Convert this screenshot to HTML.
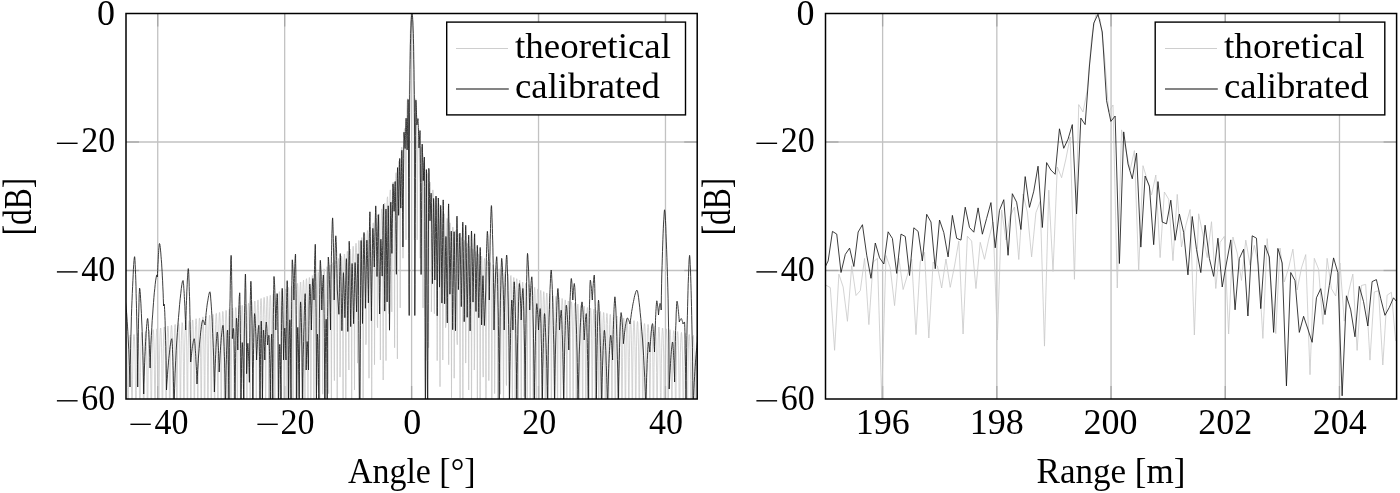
<!DOCTYPE html><html><head><meta charset="utf-8"><style>html,body{margin:0;padding:0;background:#fff;overflow:hidden}</style></head><body><svg width="1400" height="493" viewBox="0 0 1400 493" style="filter:grayscale(1);display:block;font-family:'Liberation Serif',serif"><rect width="1400" height="493" fill="#fff"/><g stroke="#c2c2c2" stroke-width="1.3"><line x1="157.73" y1="13.5" x2="157.73" y2="399.0" /><line x1="284.67" y1="13.5" x2="284.67" y2="399.0" /><line x1="411.60" y1="13.5" x2="411.60" y2="399.0" /><line x1="538.53" y1="13.5" x2="538.53" y2="399.0" /><line x1="665.47" y1="13.5" x2="665.47" y2="399.0" /><line x1="126.0" y1="142.00" x2="697.2" y2="142.00" /><line x1="126.0" y1="270.50" x2="697.2" y2="270.50" /></g><g stroke="#c2c2c2" stroke-width="1.3"><line x1="882.61" y1="13.5" x2="882.61" y2="399.0" /><line x1="996.83" y1="13.5" x2="996.83" y2="399.0" /><line x1="1111.05" y1="13.5" x2="1111.05" y2="399.0" /><line x1="1225.27" y1="13.5" x2="1225.27" y2="399.0" /><line x1="1339.49" y1="13.5" x2="1339.49" y2="399.0" /><line x1="825.5" y1="142.00" x2="1396.6" y2="142.00" /><line x1="825.5" y1="270.50" x2="1396.6" y2="270.50" /></g><g stroke="#a6a6a6" stroke-width="1.3"><line x1="157.73" y1="13.5" x2="157.73" y2="26.5" /><line x1="157.73" y1="399.0" x2="157.73" y2="386.0" /><line x1="284.67" y1="13.5" x2="284.67" y2="26.5" /><line x1="284.67" y1="399.0" x2="284.67" y2="386.0" /><line x1="411.60" y1="13.5" x2="411.60" y2="26.5" /><line x1="411.60" y1="399.0" x2="411.60" y2="386.0" /><line x1="538.53" y1="13.5" x2="538.53" y2="26.5" /><line x1="538.53" y1="399.0" x2="538.53" y2="386.0" /><line x1="665.47" y1="13.5" x2="665.47" y2="26.5" /><line x1="665.47" y1="399.0" x2="665.47" y2="386.0" /><line x1="126.0" y1="142.00" x2="139.0" y2="142.00" /><line x1="697.2" y1="142.00" x2="684.2" y2="142.00" /><line x1="126.0" y1="270.50" x2="139.0" y2="270.50" /><line x1="697.2" y1="270.50" x2="684.2" y2="270.50" /><line x1="882.61" y1="13.5" x2="882.61" y2="26.5" /><line x1="882.61" y1="399.0" x2="882.61" y2="386.0" /><line x1="996.83" y1="13.5" x2="996.83" y2="26.5" /><line x1="996.83" y1="399.0" x2="996.83" y2="386.0" /><line x1="1111.05" y1="13.5" x2="1111.05" y2="26.5" /><line x1="1111.05" y1="399.0" x2="1111.05" y2="386.0" /><line x1="1225.27" y1="13.5" x2="1225.27" y2="26.5" /><line x1="1225.27" y1="399.0" x2="1225.27" y2="386.0" /><line x1="1339.49" y1="13.5" x2="1339.49" y2="26.5" /><line x1="1339.49" y1="399.0" x2="1339.49" y2="386.0" /><line x1="825.5" y1="142.00" x2="838.5" y2="142.00" /><line x1="1396.6" y1="142.00" x2="1383.6" y2="142.00" /><line x1="825.5" y1="270.50" x2="838.5" y2="270.50" /><line x1="1396.6" y1="270.50" x2="1383.6" y2="270.50" /></g><defs><clipPath id="cl"><rect x="126.0" y="13.5" width="571.2" height="385.5"/></clipPath><clipPath id="cr"><rect x="825.5" y="13.5" width="571.0999999999999" height="385.5"/></clipPath></defs><path clip-path="url(#cl)" d="M126.0,336.2 126.3,336.9 126.5,339.9 126.8,345.4 127.0,354.1 127.3,367.2 127.5,387.4 127.8,423.7 128.0,431.1 128.3,428.3 128.5,389.4 128.8,368.2 129.0,354.5 129.3,345.3 129.6,339.4 129.8,336.2 130.1,335.2 130.3,336.5 130.6,340.2 130.8,346.7 131.1,356.7 131.3,371.7 131.6,395.8 131.8,431.1 132.1,431.1 132.3,409.8 132.6,379.4 132.9,361.3 133.1,349.5 133.4,341.7 133.6,336.8 133.9,334.5 134.1,334.6 134.4,336.9 134.6,341.9 134.9,349.9 135.1,362.1 135.4,380.9 135.6,413.6 135.9,431.1 136.2,431.1 136.4,390.5 136.7,367.7 136.9,353.3 137.2,343.8 137.4,337.7 137.7,334.3 137.9,333.3 138.2,334.8 138.4,338.7 138.7,345.5 138.9,356.1 139.2,372.2 139.5,398.8 139.7,431.1 140.0,431.1 140.2,399.9 140.5,372.6 140.7,356.1 141.0,345.2 141.2,338.1 141.5,334.0 141.7,332.4 142.0,333.3 142.2,336.6 142.5,342.7 142.8,352.5 143.0,367.3 143.3,391.2 143.5,431.1 143.8,431.1 144.0,405.6 144.3,375.1 144.5,357.2 144.8,345.5 145.0,337.9 145.3,333.4 145.5,331.6 145.8,332.2 146.1,335.3 146.3,341.2 146.6,350.7 146.8,365.2 147.1,388.7 147.3,431.1 147.6,431.1 147.8,405.8 148.1,374.6 148.3,356.4 148.6,344.6 148.8,337.0 149.1,332.5 149.4,330.6 149.6,331.3 149.9,334.6 150.1,340.7 150.4,350.6 150.6,365.7 150.9,390.5 151.1,431.1 151.4,431.1 151.6,400.1 151.9,370.9 152.1,353.6 152.4,342.4 152.7,335.2 152.9,331.1 153.2,329.7 153.4,330.8 153.7,334.6 153.9,341.4 154.2,352.2 154.4,369.1 154.7,397.4 154.9,431.1 155.2,431.1 155.4,390.1 155.7,364.7 156.0,349.2 156.2,339.1 156.5,332.8 156.7,329.5 157.0,328.8 157.2,330.7 157.5,335.5 157.7,343.6 158.0,356.2 158.2,376.1 158.5,412.3 158.7,431.1 159.0,416.5 159.3,377.9 159.5,357.0 159.8,343.8 160.0,335.3 160.3,330.2 160.5,328.0 160.8,328.4 161.0,331.6 161.3,337.7 161.5,347.7 161.8,363.4 162.0,389.2 162.3,431.1 162.6,431.1 162.8,392.7 163.1,365.1 163.3,348.5 163.6,337.9 163.8,331.3 164.1,327.8 164.3,327.0 164.6,328.9 164.8,333.7 165.1,342.0 165.3,355.1 165.6,375.9 165.9,414.8 166.1,431.1 166.4,408.6 166.6,372.7 166.9,352.9 167.1,340.3 167.4,332.3 167.6,327.7 167.9,326.0 168.1,327.1 168.4,330.9 168.6,338.1 168.9,349.6 169.2,367.7 169.4,399.3 169.7,431.1 169.9,424.2 170.2,379.1 170.4,356.2 170.7,342.0 170.9,333.0 171.2,327.6 171.4,325.3 171.7,325.7 171.9,329.0 172.2,335.5 172.5,346.0 172.7,362.7 173.0,391.1 173.2,431.1 173.5,431.1 173.7,383.1 174.0,358.0 174.2,342.8 174.5,333.1 174.7,327.2 175.0,324.5 175.3,324.6 175.5,327.6 175.8,333.8 176.0,344.0 176.3,360.2 176.5,387.5 176.8,431.1 177.0,431.1 177.3,383.8 177.5,357.9 177.8,342.3 178.0,332.4 178.3,326.4 178.6,323.6 178.8,323.7 179.1,326.7 179.3,333.0 179.6,343.3 179.8,359.8 180.1,387.7 180.3,431.1 180.6,431.1 180.8,381.1 181.1,355.8 181.3,340.5 181.6,330.9 181.9,325.2 182.1,322.6 182.4,323.0 182.6,326.3 182.9,333.0 183.1,344.0 183.4,361.5 183.6,392.2 183.9,431.1 184.1,422.2 184.4,375.3 184.6,351.9 184.9,337.7 185.2,328.7 185.4,323.6 185.7,321.5 185.9,322.5 186.2,326.4 186.4,334.0 186.7,346.2 186.9,365.9 187.2,402.2 187.4,431.1 187.7,405.4 187.9,367.2 188.2,346.7 188.5,334.0 188.7,326.1 189.0,321.8 189.2,320.6 189.5,322.4 189.7,327.4 190.0,336.2 190.2,350.4 190.5,374.0 190.7,422.2 191.0,431.1 191.2,388.1 191.5,358.0 191.8,340.6 192.0,329.7 192.3,323.2 192.5,320.1 192.8,320.0 193.0,323.0 193.3,329.4 193.5,340.2 193.8,357.6 194.0,387.9 194.3,431.1 194.5,419.1 194.8,371.7 195.1,348.4 195.3,334.2 195.6,325.4 195.8,320.5 196.1,318.7 196.3,320.1 196.6,324.7 196.8,333.1 197.1,346.7 197.3,369.3 197.6,414.4 197.8,431.1 198.1,388.6 198.4,357.0 198.6,339.1 198.9,328.0 199.1,321.4 199.4,318.2 199.6,318.2 199.9,321.3 200.1,328.0 200.4,339.2 200.6,357.4 200.9,389.8 201.1,431.1 201.4,409.4 201.7,366.2 201.9,344.2 202.2,330.8 202.4,322.5 202.7,318.1 202.9,316.9 203.2,318.9 203.4,324.2 203.7,333.7 203.9,349.2 204.2,375.4 204.4,431.1 204.7,431.1 205.0,375.5 205.2,348.9 205.5,333.3 205.7,323.6 206.0,318.1 206.2,316.0 206.5,317.1 206.7,321.5 207.0,329.8 207.2,343.4 207.5,366.1 207.7,412.0 208.0,431.1 208.3,383.9 208.5,352.9 208.8,335.3 209.0,324.4 209.3,318.0 209.5,315.2 209.8,315.6 210.0,319.4 210.3,326.9 210.5,339.4 210.8,360.0 211.0,399.4 211.3,431.1 211.6,390.7 211.8,355.7 212.1,336.5 212.3,324.7 212.6,317.8 212.8,314.5 213.1,314.5 213.3,317.7 213.6,324.8 213.8,336.7 214.1,356.3 214.3,392.7 214.6,431.1 214.9,394.6 215.1,356.9 215.4,336.8 215.6,324.5 215.9,317.2 216.1,313.6 216.4,313.4 216.6,316.5 216.9,323.4 217.1,335.1 217.4,354.4 217.6,390.1 217.9,431.1 218.2,394.8 218.4,356.3 218.7,335.9 218.9,323.6 219.2,316.2 219.4,312.6 219.7,312.5 219.9,315.6 220.2,322.6 220.4,334.5 220.7,354.3 220.9,391.2 221.2,431.1 221.5,391.0 221.7,353.9 222.0,334.0 222.2,322.0 222.5,314.8 222.7,311.5 223.0,311.6 223.2,315.1 223.5,322.5 223.7,335.1 224.0,356.0 224.2,396.4 224.5,431.1 224.8,384.0 225.0,349.9 225.3,331.2 225.5,319.8 225.8,313.2 226.0,310.4 226.3,310.9 226.5,315.0 226.8,323.1 227.0,336.8 227.3,359.8 227.5,407.4 227.8,431.1 228.1,374.7 228.3,344.6 228.6,327.5 228.8,317.1 229.1,311.3 229.3,309.2 229.6,310.5 229.8,315.4 230.1,324.6 230.3,340.0 230.6,366.6 230.8,428.9 231.1,422.5 231.4,364.3 231.6,338.4 231.9,323.3 232.1,314.2 232.4,309.4 232.6,308.2 232.9,310.5 233.1,316.5 233.4,327.2 233.6,345.2 233.9,377.6 234.1,431.1 234.4,396.2 234.7,353.5 234.9,331.8 235.2,318.9 235.4,311.2 235.7,307.6 235.9,307.5 236.2,311.0 236.4,318.5 236.7,331.4 236.9,353.2 237.2,396.4 237.4,431.1 237.7,375.2 238.0,343.0 238.2,325.2 238.5,314.4 238.7,308.4 239.0,306.2 239.2,307.4 239.5,312.4 239.7,321.9 240.0,337.9 240.2,365.8 240.5,431.1 240.7,410.7 241.0,357.7 241.3,333.2 241.5,318.8 241.8,310.2 242.0,305.9 242.3,305.3 242.5,308.2 242.8,315.1 243.0,327.2 243.3,347.7 243.5,387.1 243.8,431.1 244.0,377.7 244.3,343.0 244.6,324.2 244.8,312.9 245.1,306.5 245.3,304.1 245.6,305.2 245.8,310.1 246.1,319.5 246.3,335.4 246.6,363.3 246.8,431.1 247.1,407.9 247.3,355.1 247.6,330.6 247.9,316.3 248.1,307.8 248.4,303.7 248.6,303.2 248.9,306.4 249.1,313.7 249.4,326.5 249.6,348.1 249.9,391.5 250.1,431.1 250.4,369.9 250.6,337.9 250.9,320.1 251.2,309.5 251.4,303.8 251.7,301.9 251.9,303.6 252.2,309.3 252.4,319.7 252.7,337.4 252.9,369.7 253.2,431.1 253.4,388.7 253.7,345.9 253.9,324.3 254.2,311.6 254.5,304.2 254.7,301.0 255.0,301.5 255.2,305.8 255.5,314.5 255.7,329.5 256.0,355.5 256.2,416.0 256.5,414.3 256.7,354.7 257.0,328.7 257.2,313.7 257.5,304.8 257.8,300.4 258.0,299.9 258.3,303.0 258.5,310.4 258.8,323.3 259.0,345.5 259.3,390.5 259.5,431.1 259.8,364.0 260.0,332.9 260.3,315.7 260.5,305.5 260.8,300.0 261.1,298.5 261.3,300.8 261.6,307.0 261.8,318.5 262.1,338.0 262.3,375.1 262.6,431.1 262.8,373.4 263.1,336.9 263.3,317.5 263.6,306.0 263.8,299.7 264.1,297.4 264.4,298.9 264.6,304.3 264.9,314.7 265.1,332.3 265.4,364.7 265.6,431.1 265.9,382.7 266.1,340.3 266.4,318.9 266.6,306.3 266.9,299.2 267.1,296.3 267.4,297.2 267.7,302.0 267.9,311.6 268.2,328.0 268.4,357.5 268.7,431.1 268.9,391.0 269.2,342.9 269.4,319.8 269.7,306.3 269.9,298.6 270.2,295.3 270.5,295.7 270.7,300.1 271.0,309.1 271.2,324.7 271.5,352.4 271.7,421.9 272.0,397.5 272.2,344.5 272.5,320.1 272.7,306.0 273.0,297.8 273.2,294.2 273.5,294.4 273.8,298.5 274.0,307.2 274.3,322.3 274.5,349.1 274.8,413.7 275.0,400.9 275.3,344.8 275.5,319.6 275.8,305.2 276.0,296.8 276.3,293.0 276.5,293.1 276.8,297.1 277.1,305.7 277.3,320.7 277.6,347.3 277.8,410.8 278.1,400.6 278.3,343.7 278.6,318.4 278.8,303.9 279.1,295.5 279.3,291.7 279.6,291.8 279.8,295.9 280.1,304.6 280.4,319.8 280.6,346.8 280.9,412.9 281.1,396.4 281.4,341.4 281.6,316.5 281.9,302.2 282.1,294.0 282.4,290.3 282.6,290.6 282.9,294.9 283.1,304.0 283.4,319.7 283.7,347.9 283.9,420.5 284.2,389.0 284.4,337.8 284.7,313.9 284.9,300.1 285.2,292.3 285.4,288.9 285.7,289.5 285.9,294.2 286.2,303.8 286.4,320.4 286.7,350.5 287.0,431.1 287.2,379.4 287.5,333.1 287.7,310.7 288.0,297.6 288.2,290.3 288.5,287.4 288.7,288.5 289.0,293.8 289.2,304.1 289.5,321.9 289.7,355.1 290.0,431.1 290.3,368.6 290.5,327.7 290.8,307.0 291.0,294.9 291.3,288.3 291.5,286.0 291.8,287.7 292.0,293.6 292.3,305.0 292.5,324.6 292.8,362.5 293.0,431.1 293.3,357.3 293.6,321.8 293.8,302.9 294.1,291.9 294.3,286.1 294.6,284.6 294.8,287.1 295.1,293.9 295.3,306.6 295.6,328.6 295.8,374.1 296.1,431.1 296.3,346.1 296.6,315.5 296.9,298.6 297.1,288.8 297.4,284.0 297.6,283.4 297.9,286.7 298.1,294.8 298.4,309.1 298.6,334.5 298.9,393.2 299.1,396.6 299.4,335.3 299.6,309.1 299.9,294.2 300.2,285.8 300.4,282.0 300.7,282.3 300.9,286.8 301.2,296.3 301.4,312.9 301.7,343.2 301.9,431.1 302.2,370.7 302.4,325.0 302.7,302.7 302.9,289.9 303.2,282.8 303.5,280.2 303.7,281.7 304.0,287.5 304.2,298.7 304.5,318.2 304.7,356.1 305.0,431.1 305.2,350.8 305.5,315.3 305.7,296.5 306.0,285.6 306.2,280.0 306.5,278.7 306.8,281.5 307.0,288.8 307.3,302.2 307.5,325.8 307.8,377.2 308.0,406.5 308.3,334.5 308.5,306.4 308.8,290.6 309.0,281.7 309.3,277.5 309.5,277.6 309.8,281.8 310.1,291.0 310.3,307.3 310.6,337.0 310.8,421.0 311.1,367.6 311.3,320.7 311.6,298.1 311.8,285.1 312.1,278.0 312.3,275.5 312.6,277.0 312.8,282.9 313.1,294.4 313.4,314.5 313.6,354.2 313.9,431.1 314.1,342.8 314.4,308.8 314.6,290.6 314.9,280.1 315.1,274.9 315.4,273.9 315.6,277.1 315.9,285.1 316.1,299.4 316.4,325.1 316.7,385.5 316.9,383.7 317.2,324.1 317.4,298.4 317.7,283.8 317.9,275.7 318.2,272.2 318.4,273.0 318.7,278.1 318.9,288.5 319.2,306.7 319.4,341.4 319.7,431.1 320.0,347.9 320.2,309.2 320.5,289.3 320.7,277.8 321.0,271.9 321.2,270.3 321.5,272.9 321.7,280.2 322.0,293.6 322.2,317.5 322.5,370.1 322.7,394.2 323.0,324.6 323.3,296.9 323.5,281.4 323.8,272.7 324.0,268.8 324.3,269.2 324.5,273.9 324.8,283.8 325.0,301.3 325.3,334.2 325.5,431.1 325.8,348.1 326.0,307.2 326.3,286.5 326.6,274.6 326.8,268.3 327.1,266.6 327.3,269.0 327.6,276.1 327.8,289.3 328.1,312.8 328.3,364.1 328.6,393.6 328.8,321.5 329.1,293.4 329.3,277.7 329.6,268.9 329.9,265.0 330.1,265.3 330.4,270.1 330.6,280.0 330.9,297.7 331.1,331.1 331.4,431.1 331.6,342.7 331.9,302.5 332.1,282.1 332.4,270.4 332.6,264.2 332.9,262.6 333.2,265.3 333.4,272.6 333.7,286.3 333.9,310.7 334.2,365.7 334.4,380.6 334.7,314.8 334.9,287.9 335.2,272.8 335.4,264.3 335.7,260.7 335.9,261.4 336.2,266.6 336.5,277.2 336.7,295.9 337.0,332.1 337.2,431.1 337.5,332.3 337.7,295.4 338.0,276.2 338.2,265.2 338.5,259.6 338.7,258.5 339.0,261.6 339.2,269.7 339.5,284.5 339.8,311.1 340.0,377.1 340.3,360.3 340.5,305.3 340.8,280.7 341.0,266.7 341.3,259.1 341.5,256.2 341.8,257.5 342.0,263.5 342.3,275.2 342.5,296.0 342.8,338.1 343.1,424.7 343.3,318.6 343.6,286.4 343.8,269.0 344.1,259.1 344.3,254.4 344.6,254.1 344.8,258.2 345.1,267.5 345.3,284.1 345.6,315.0 345.8,411.2 346.1,337.8 346.4,293.8 346.6,272.1 346.9,259.8 347.1,253.2 347.4,251.3 347.6,253.7 347.9,260.9 348.1,274.3 348.4,298.4 348.6,352.7 348.9,370.0 349.1,303.3 349.4,276.1 349.7,260.9 349.9,252.5 350.2,249.0 350.4,249.8 350.7,255.1 350.9,266.0 351.2,285.5 351.4,323.9 351.7,431.1 351.9,315.9 352.2,281.1 352.4,262.7 352.7,252.1 353.0,247.0 353.2,246.3 353.5,250.0 353.7,258.9 354.0,274.9 354.2,304.5 354.5,390.0 354.7,333.9 355.0,287.3 355.2,264.9 355.5,252.2 355.7,245.4 356.0,243.3 356.3,245.5 356.5,252.5 356.8,265.8 357.0,289.7 357.3,343.2 357.5,363.1 357.8,295.2 358.0,267.8 358.3,252.6 358.5,244.1 358.8,240.5 359.0,241.4 359.3,246.8 359.6,257.8 359.8,277.6 360.1,317.0 360.3,431.1 360.6,305.5 360.8,271.4 361.1,253.3 361.3,243.0 361.6,238.0 361.8,237.5 362.1,241.5 362.3,250.6 362.6,267.2 362.9,298.4 363.1,397.9 363.4,319.4 363.6,275.9 363.9,254.4 364.1,242.1 364.4,235.7 364.6,233.9 364.9,236.5 365.1,244.0 365.4,258.1 365.7,283.7 365.9,344.7 366.2,340.2 366.4,281.4 366.7,255.8 366.9,241.4 367.2,233.5 367.4,230.5 367.7,231.8 367.9,237.9 368.2,249.8 368.4,271.3 368.7,316.2 369.0,378.2 369.2,288.3 369.5,257.7 369.7,240.9 370.0,231.4 370.2,227.1 370.5,227.3 370.7,232.0 371.0,242.1 371.2,260.5 371.5,296.1 371.7,407.8 372.0,297.3 372.3,259.9 372.5,240.5 372.8,229.4 373.0,223.8 373.3,222.8 373.5,226.3 373.8,234.9 374.0,250.6 374.3,280.0 374.5,364.7 374.8,309.5 375.0,262.7 375.3,240.2 375.6,227.3 375.8,220.5 376.1,218.4 376.3,220.6 376.6,227.8 376.8,241.5 377.1,266.3 377.3,324.6 377.6,327.7 377.8,266.2 378.1,240.0 378.3,225.2 378.6,217.1 378.9,213.8 379.1,215.0 379.4,220.9 379.6,232.7 379.9,254.1 380.1,299.0 380.4,360.0 380.6,270.5 380.9,239.8 381.1,223.0 381.4,213.5 381.6,209.1 381.9,209.2 382.2,213.9 382.4,224.1 382.7,242.7 382.9,279.3 383.2,380.0 383.4,276.1 383.7,239.7 383.9,220.6 384.2,209.6 384.4,204.1 384.7,203.2 384.9,206.8 385.2,215.6 385.5,231.8 385.7,262.5 386.0,360.6 386.2,283.6 386.5,239.7 386.7,217.9 387.0,205.4 387.2,198.8 387.5,196.8 387.7,199.3 388.0,206.8 388.2,221.0 388.5,247.4 388.8,313.7 389.0,294.4 389.3,239.7 389.5,214.8 389.8,200.7 390.0,192.8 390.3,189.9 390.5,191.3 390.8,197.6 391.0,210.1 391.3,232.9 391.5,283.8 391.8,311.8 392.1,239.7 392.3,211.2 392.6,195.2 392.8,186.2 393.1,182.1 393.3,182.6 393.6,187.7 393.8,198.6 394.1,218.5 394.3,259.8 394.6,347.7 394.8,239.7 395.1,206.8 395.4,188.8 395.6,178.4 395.9,173.3 396.1,172.7 396.4,176.7 396.6,186.1 396.9,203.6 397.1,238.1 397.4,358.9 397.6,239.7 397.9,201.3 398.1,181.0 398.4,169.2 398.7,162.9 398.9,161.2 399.2,164.0 399.4,172.0 399.7,187.3 399.9,216.7 400.2,307.9 400.4,239.8 400.7,193.9 400.9,171.0 401.2,157.5 401.4,150.0 401.7,147.1 402.0,148.7 402.2,155.2 402.5,168.4 402.7,193.6 403.0,258.2 403.2,239.8 403.5,183.4 403.7,157.3 404.0,141.9 404.2,132.8 404.5,128.6 404.7,128.7 405.0,133.5 405.3,144.6 405.5,165.9 405.8,215.6 406.0,239.8 406.3,166.8 406.5,136.5 406.8,118.5 407.0,107.2 407.3,100.8 407.5,98.7 407.8,101.1 408.0,109.0 408.3,126.0 408.6,164.5 408.8,239.8 409.1,133.3 409.3,95.9 409.6,72.5 409.8,55.7 410.1,43.0 410.3,33.2 410.6,25.8 410.8,20.3 411.1,16.5 411.3,14.2 411.6,13.5 411.9,14.2 412.1,16.5 412.4,20.3 412.6,25.8 412.9,33.2 413.1,43.0 413.4,55.7 413.6,72.5 413.9,95.9 414.1,133.3 414.4,239.8 414.6,164.5 414.9,126.0 415.2,109.0 415.4,101.1 415.7,98.7 415.9,100.8 416.2,107.2 416.4,118.5 416.7,136.5 416.9,166.8 417.2,239.8 417.4,215.6 417.7,165.9 417.9,144.6 418.2,133.5 418.5,128.7 418.7,128.6 419.0,132.8 419.2,141.9 419.5,157.3 419.7,183.4 420.0,239.8 420.2,258.2 420.5,193.6 420.7,168.4 421.0,155.2 421.2,148.7 421.5,147.1 421.8,150.0 422.0,157.5 422.3,171.0 422.5,193.9 422.8,239.8 423.0,307.9 423.3,216.7 423.5,187.3 423.8,172.0 424.0,164.0 424.3,161.2 424.5,162.9 424.8,169.2 425.1,181.0 425.3,201.3 425.6,239.7 425.8,360.7 426.1,238.1 426.3,203.6 426.6,186.1 426.8,176.7 427.1,172.7 427.3,173.3 427.6,178.4 427.8,188.8 428.1,206.8 428.4,239.7 428.6,347.7 428.9,259.8 429.1,218.5 429.4,198.6 429.6,187.7 429.9,182.6 430.1,182.1 430.4,186.2 430.6,195.2 430.9,211.2 431.1,239.7 431.4,311.8 431.7,283.8 431.9,232.9 432.2,210.1 432.4,197.6 432.7,191.3 432.9,189.9 433.2,192.8 433.4,200.7 433.7,214.8 433.9,239.7 434.2,294.4 434.4,313.7 434.7,247.4 435.0,221.0 435.2,206.8 435.5,199.3 435.7,196.8 436.0,198.8 436.2,205.4 436.5,217.9 436.7,239.7 437.0,283.6 437.2,360.6 437.5,262.5 437.7,231.8 438.0,215.6 438.3,206.8 438.5,203.2 438.8,204.1 439.0,209.6 439.3,220.6 439.5,239.7 439.8,276.1 440.0,386.7 440.3,279.3 440.5,242.7 440.8,224.1 441.0,213.9 441.3,209.2 441.6,209.1 441.8,213.5 442.1,223.0 442.3,239.8 442.6,270.5 442.8,360.0 443.1,299.0 443.3,254.1 443.6,232.7 443.8,220.9 444.1,215.0 444.3,213.8 444.6,217.1 444.9,225.2 445.1,240.0 445.4,266.2 445.6,327.7 445.9,324.6 446.1,266.3 446.4,241.5 446.6,227.8 446.9,220.6 447.1,218.4 447.4,220.5 447.6,227.3 447.9,240.2 448.2,262.7 448.4,309.5 448.7,364.7 448.9,280.0 449.2,250.6 449.4,234.9 449.7,226.3 449.9,222.8 450.2,223.8 450.4,229.4 450.7,240.5 450.9,259.9 451.2,297.3 451.5,397.7 451.7,296.1 452.0,260.5 452.2,242.1 452.5,232.0 452.7,227.3 453.0,227.1 453.2,231.4 453.5,240.9 453.7,257.7 454.0,288.3 454.2,378.2 454.5,316.2 454.8,271.3 455.0,249.8 455.3,237.9 455.5,231.8 455.8,230.5 456.0,233.5 456.3,241.4 456.5,255.8 456.8,281.4 457.0,340.2 457.3,344.7 457.5,283.7 457.8,258.1 458.1,244.0 458.3,236.5 458.6,233.9 458.8,235.7 459.1,242.1 459.3,254.4 459.6,275.9 459.8,319.4 460.1,397.9 460.3,298.4 460.6,267.2 460.9,250.6 461.1,241.5 461.4,237.5 461.6,238.0 461.9,243.0 462.1,253.3 462.4,271.4 462.6,305.5 462.9,431.1 463.1,317.0 463.4,277.6 463.6,257.8 463.9,246.8 464.2,241.4 464.4,240.5 464.7,244.1 464.9,252.6 465.2,267.8 465.4,295.2 465.7,363.1 465.9,343.2 466.2,289.7 466.4,265.8 466.7,252.5 466.9,245.5 467.2,243.3 467.5,245.4 467.7,252.2 468.0,264.9 468.2,287.3 468.5,333.9 468.7,390.0 469.0,304.5 469.2,274.9 469.5,258.9 469.7,250.0 470.0,246.3 470.2,247.0 470.5,252.1 470.8,262.7 471.0,281.1 471.3,315.9 471.5,431.1 471.8,323.9 472.0,285.5 472.3,266.0 472.5,255.1 472.8,249.8 473.0,249.0 473.3,252.5 473.5,260.9 473.8,276.1 474.1,303.3 474.3,370.0 474.6,352.7 474.8,298.4 475.1,274.3 475.3,260.9 475.6,253.7 475.8,251.3 476.1,253.2 476.3,259.8 476.6,272.1 476.8,293.8 477.1,337.8 477.4,411.2 477.6,315.0 477.9,284.1 478.1,267.5 478.4,258.2 478.6,254.1 478.9,254.4 479.1,259.1 479.4,269.0 479.6,286.4 479.9,318.6 480.1,424.7 480.4,338.1 480.7,296.0 480.9,275.2 481.2,263.5 481.4,257.5 481.7,256.2 481.9,259.1 482.2,266.7 482.4,280.7 482.7,305.3 482.9,360.3 483.2,377.1 483.4,311.1 483.7,284.5 484.0,269.7 484.2,261.6 484.5,258.5 484.7,259.6 485.0,265.2 485.2,276.2 485.5,295.4 485.7,332.3 486.0,431.1 486.2,332.1 486.5,295.9 486.7,277.2 487.0,266.6 487.3,261.4 487.5,260.7 487.8,264.3 488.0,272.8 488.3,287.9 488.5,314.8 488.8,380.6 489.0,365.7 489.3,310.7 489.5,286.3 489.8,272.6 490.0,265.3 490.3,262.6 490.6,264.2 490.8,270.4 491.1,282.1 491.3,302.5 491.6,342.7 491.8,431.1 492.1,331.1 492.3,297.7 492.6,280.0 492.8,270.1 493.1,265.3 493.3,265.0 493.6,268.9 493.9,277.7 494.1,293.4 494.4,321.5 494.6,393.6 494.9,364.1 495.1,312.8 495.4,289.3 495.6,276.1 495.9,269.0 496.1,266.6 496.4,268.3 496.6,274.6 496.9,286.5 497.2,307.2 497.4,348.1 497.7,431.1 497.9,334.2 498.2,301.3 498.4,283.8 498.7,273.9 498.9,269.2 499.2,268.8 499.4,272.7 499.7,281.4 499.9,296.9 500.2,324.6 500.5,394.2 500.7,370.1 501.0,317.5 501.2,293.6 501.5,280.2 501.7,272.9 502.0,270.3 502.2,271.9 502.5,277.8 502.7,289.3 503.0,309.2 503.2,347.9 503.5,431.1 503.8,341.4 504.0,306.7 504.3,288.5 504.5,278.1 504.8,273.0 505.0,272.2 505.3,275.7 505.5,283.8 505.8,298.4 506.0,324.1 506.3,383.7 506.5,385.5 506.8,325.1 507.1,299.4 507.3,285.1 507.6,277.1 507.8,273.9 508.1,274.9 508.3,280.1 508.6,290.6 508.8,308.8 509.1,342.8 509.3,431.1 509.6,354.2 509.8,314.5 510.1,294.4 510.4,282.9 510.6,277.0 510.9,275.5 511.1,278.0 511.4,285.1 511.6,298.1 511.9,320.7 512.1,367.6 512.4,421.0 512.6,337.0 512.9,307.3 513.1,291.0 513.4,281.8 513.7,277.6 513.9,277.5 514.2,281.7 514.4,290.6 514.7,306.4 514.9,334.5 515.2,406.5 515.4,377.2 515.7,325.8 515.9,302.2 516.2,288.8 516.4,281.5 516.7,278.7 517.0,280.0 517.2,285.6 517.5,296.5 517.7,315.3 518.0,350.8 518.2,431.1 518.5,356.1 518.7,318.2 519.0,298.7 519.2,287.5 519.5,281.7 519.7,280.2 520.0,282.8 520.3,289.9 520.5,302.7 520.8,325.0 521.0,370.7 521.3,431.1 521.5,343.2 521.8,312.9 522.0,296.3 522.3,286.8 522.5,282.3 522.8,282.0 523.0,285.8 523.3,294.2 523.6,309.1 523.8,335.3 524.1,396.6 524.3,393.2 524.6,334.5 524.8,309.1 525.1,294.8 525.3,286.7 525.6,283.4 525.8,284.0 526.1,288.8 526.3,298.6 526.6,315.5 526.9,346.1 527.1,431.1 527.4,374.1 527.6,328.6 527.9,306.6 528.1,293.9 528.4,287.1 528.6,284.6 528.9,286.1 529.1,291.9 529.4,302.9 529.6,321.8 529.9,357.3 530.2,431.1 530.4,362.5 530.7,324.6 530.9,305.0 531.2,293.6 531.4,287.7 531.7,286.0 531.9,288.3 532.2,294.9 532.4,307.0 532.7,327.7 532.9,368.6 533.2,431.1 533.5,355.1 533.7,321.9 534.0,304.1 534.2,293.8 534.5,288.5 534.7,287.4 535.0,290.3 535.2,297.6 535.5,310.7 535.7,333.1 536.0,379.4 536.2,431.1 536.5,350.5 536.8,320.4 537.0,303.8 537.3,294.2 537.5,289.5 537.8,288.9 538.0,292.3 538.3,300.1 538.5,313.9 538.8,337.8 539.0,389.0 539.3,420.5 539.5,347.9 539.8,319.7 540.1,304.0 540.3,294.9 540.6,290.6 540.8,290.3 541.1,294.0 541.3,302.2 541.6,316.5 541.8,341.4 542.1,396.4 542.3,412.9 542.6,346.8 542.8,319.8 543.1,304.6 543.4,295.9 543.6,291.8 543.9,291.7 544.1,295.5 544.4,303.9 544.6,318.4 544.9,343.7 545.1,400.6 545.4,410.8 545.6,347.3 545.9,320.7 546.1,305.7 546.4,297.1 546.7,293.1 546.9,293.0 547.2,296.8 547.4,305.2 547.7,319.6 547.9,344.8 548.2,400.9 548.4,413.7 548.7,349.1 548.9,322.3 549.2,307.2 549.4,298.5 549.7,294.4 550.0,294.2 550.2,297.8 550.5,306.0 550.7,320.1 551.0,344.5 551.2,397.5 551.5,421.9 551.7,352.4 552.0,324.7 552.2,309.1 552.5,300.1 552.7,295.7 553.0,295.3 553.3,298.6 553.5,306.3 553.8,319.8 554.0,342.9 554.3,391.0 554.5,431.1 554.8,357.5 555.0,328.0 555.3,311.6 555.5,302.0 555.8,297.2 556.1,296.3 556.3,299.2 556.6,306.3 556.8,318.9 557.1,340.3 557.3,382.7 557.6,431.1 557.8,364.7 558.1,332.3 558.3,314.7 558.6,304.3 558.8,298.9 559.1,297.4 559.4,299.7 559.6,306.0 559.9,317.5 560.1,336.9 560.4,373.4 560.6,431.1 560.9,375.1 561.1,338.0 561.4,318.5 561.6,307.0 561.9,300.8 562.1,298.5 562.4,300.0 562.7,305.5 562.9,315.7 563.2,332.9 563.4,364.0 563.7,431.1 563.9,390.5 564.2,345.5 564.4,323.3 564.7,310.4 564.9,303.0 565.2,299.9 565.4,300.4 565.7,304.8 566.0,313.7 566.2,328.7 566.5,354.7 566.7,414.3 567.0,416.0 567.2,355.5 567.5,329.5 567.7,314.5 568.0,305.8 568.2,301.5 568.5,301.0 568.7,304.2 569.0,311.6 569.3,324.3 569.5,345.9 569.8,388.7 570.0,431.1 570.3,369.7 570.5,337.4 570.8,319.7 571.0,309.3 571.3,303.6 571.5,301.9 571.8,303.8 572.0,309.5 572.3,320.1 572.6,337.9 572.8,369.9 573.1,431.1 573.3,391.5 573.6,348.1 573.8,326.5 574.1,313.7 574.3,306.4 574.6,303.2 574.8,303.7 575.1,307.8 575.3,316.3 575.6,330.6 575.9,355.1 576.1,407.9 576.4,431.1 576.6,363.3 576.9,335.4 577.1,319.5 577.4,310.1 577.6,305.2 577.9,304.1 578.1,306.5 578.4,312.9 578.6,324.2 578.9,343.0 579.2,377.7 579.4,431.1 579.7,387.1 579.9,347.7 580.2,327.2 580.4,315.1 580.7,308.2 580.9,305.3 581.2,305.9 581.4,310.2 581.7,318.8 581.9,333.2 582.2,357.7 582.5,410.7 582.7,431.1 583.0,365.8 583.2,337.9 583.5,321.9 583.7,312.4 584.0,307.4 584.2,306.2 584.5,308.4 584.7,314.4 585.0,325.2 585.2,343.0 585.5,375.2 585.8,431.1 586.0,396.4 586.3,353.2 586.5,331.4 586.8,318.5 587.0,311.0 587.3,307.5 587.5,307.6 587.8,311.2 588.0,318.9 588.3,331.8 588.5,353.5 588.8,396.2 589.1,431.1 589.3,377.6 589.6,345.2 589.8,327.2 590.1,316.5 590.3,310.5 590.6,308.2 590.8,309.4 591.1,314.2 591.3,323.3 591.6,338.4 591.8,364.3 592.1,422.5 592.4,428.9 592.6,366.6 592.9,340.0 593.1,324.6 593.4,315.4 593.6,310.5 593.9,309.2 594.1,311.3 594.4,317.1 594.6,327.5 594.9,344.6 595.1,374.7 595.4,431.1 595.7,407.4 595.9,359.8 596.2,336.8 596.4,323.1 596.7,315.0 596.9,310.9 597.2,310.4 597.4,313.2 597.7,319.8 597.9,331.2 598.2,349.9 598.4,384.0 598.7,431.1 599.0,396.4 599.2,356.0 599.5,335.1 599.7,322.5 600.0,315.1 600.2,311.6 600.5,311.5 600.7,314.8 601.0,322.0 601.2,334.0 601.5,353.9 601.7,391.0 602.0,431.1 602.3,391.2 602.5,354.3 602.8,334.5 603.0,322.6 603.3,315.6 603.5,312.5 603.8,312.6 604.0,316.2 604.3,323.6 604.5,335.9 604.8,356.3 605.0,394.8 605.3,431.1 605.6,390.1 605.8,354.4 606.1,335.1 606.3,323.4 606.6,316.5 606.8,313.4 607.1,313.6 607.3,317.2 607.6,324.5 607.8,336.8 608.1,356.9 608.3,394.6 608.6,431.1 608.9,392.7 609.1,356.3 609.4,336.7 609.6,324.8 609.9,317.7 610.1,314.5 610.4,314.5 610.6,317.8 610.9,324.7 611.1,336.5 611.4,355.7 611.6,390.7 611.9,431.1 612.2,399.4 612.4,360.0 612.7,339.4 612.9,326.9 613.2,319.4 613.4,315.6 613.7,315.2 613.9,318.0 614.2,324.4 614.4,335.3 614.7,352.9 614.9,383.9 615.2,431.1 615.5,412.0 615.7,366.1 616.0,343.4 616.2,329.8 616.5,321.5 616.7,317.1 617.0,316.0 617.2,318.1 617.5,323.6 617.7,333.3 618.0,348.9 618.2,375.5 618.5,431.1 618.8,431.1 619.0,375.4 619.3,349.2 619.5,333.7 619.8,324.2 620.0,318.9 620.3,316.9 620.5,318.1 620.8,322.5 621.0,330.8 621.3,344.2 621.5,366.2 621.8,409.4 622.1,431.1 622.3,389.8 622.6,357.4 622.8,339.2 623.1,328.0 623.3,321.3 623.6,318.2 623.8,318.2 624.1,321.4 624.3,328.0 624.6,339.1 624.8,357.0 625.1,388.6 625.4,431.1 625.6,414.4 625.9,369.3 626.1,346.7 626.4,333.1 626.6,324.7 626.9,320.1 627.1,318.7 627.4,320.5 627.6,325.4 627.9,334.2 628.1,348.4 628.4,371.7 628.7,419.1 628.9,431.1 629.2,387.9 629.4,357.6 629.7,340.2 629.9,329.4 630.2,323.0 630.4,320.0 630.7,320.1 630.9,323.2 631.2,329.7 631.4,340.6 631.7,358.0 632.0,388.1 632.2,431.1 632.5,422.2 632.7,374.0 633.0,350.4 633.2,336.2 633.5,327.4 633.7,322.4 634.0,320.6 634.2,321.8 634.5,326.1 634.7,334.0 635.0,346.7 635.3,367.2 635.5,405.4 635.8,431.1 636.0,402.2 636.3,365.9 636.5,346.2 636.8,334.0 637.0,326.4 637.3,322.5 637.5,321.5 637.8,323.6 638.0,328.7 638.3,337.7 638.6,351.9 638.8,375.3 639.1,422.2 639.3,431.1 639.6,392.2 639.8,361.5 640.1,344.0 640.3,333.0 640.6,326.3 640.8,323.0 641.1,322.6 641.3,325.2 641.6,330.9 641.9,340.5 642.1,355.8 642.4,381.1 642.6,431.1 642.9,431.1 643.1,387.7 643.4,359.8 643.6,343.3 643.9,333.0 644.1,326.7 644.4,323.7 644.6,323.6 644.9,326.4 645.2,332.4 645.4,342.3 645.7,357.9 645.9,383.8 646.2,431.1 646.4,431.1 646.7,387.5 646.9,360.2 647.2,344.0 647.4,333.8 647.7,327.6 647.9,324.6 648.2,324.5 648.5,327.2 648.7,333.1 649.0,342.8 649.2,358.0 649.5,383.1 649.7,431.1 650.0,431.1 650.2,391.1 650.5,362.7 650.7,346.0 651.0,335.5 651.3,329.0 651.5,325.7 651.8,325.3 652.0,327.6 652.3,333.0 652.5,342.0 652.8,356.2 653.0,379.1 653.3,424.2 653.5,431.1 653.8,399.3 654.0,367.7 654.3,349.6 654.6,338.1 654.8,330.9 655.1,327.1 655.3,326.0 655.6,327.7 655.8,332.3 656.1,340.3 656.3,352.9 656.6,372.7 656.8,408.6 657.1,431.1 657.3,414.8 657.6,375.9 657.9,355.1 658.1,342.0 658.4,333.7 658.6,328.9 658.9,327.0 659.1,327.8 659.4,331.3 659.6,337.9 659.9,348.5 660.1,365.1 660.4,392.7 660.6,431.1 660.9,431.1 661.2,389.2 661.4,363.4 661.7,347.7 661.9,337.7 662.2,331.6 662.4,328.4 662.7,328.0 662.9,330.2 663.2,335.3 663.4,343.8 663.7,357.0 663.9,377.9 664.2,416.5 664.5,431.1 664.7,412.3 665.0,376.1 665.2,356.2 665.5,343.6 665.7,335.5 666.0,330.7 666.2,328.8 666.5,329.5 666.7,332.8 667.0,339.1 667.2,349.2 667.5,364.7 667.8,390.1 668.0,431.1 668.3,431.1 668.5,397.4 668.8,369.1 669.0,352.2 669.3,341.4 669.5,334.6 669.8,330.8 670.0,329.7 670.3,331.1 670.5,335.2 670.8,342.4 671.1,353.6 671.3,370.9 671.6,400.1 671.8,431.1 672.1,431.1 672.3,390.5 672.6,365.7 672.8,350.6 673.1,340.7 673.3,334.6 673.6,331.3 673.8,330.6 674.1,332.5 674.4,337.0 674.6,344.6 674.9,356.4 675.1,374.6 675.4,405.8 675.6,431.1 675.9,431.1 676.1,388.7 676.4,365.2 676.6,350.7 676.9,341.2 677.1,335.3 677.4,332.2 677.7,331.6 677.9,333.4 678.2,337.9 678.4,345.5 678.7,357.2 678.9,375.1 679.2,405.6 679.4,431.1 679.7,431.1 679.9,391.2 680.2,367.3 680.4,352.5 680.7,342.7 681.0,336.6 681.2,333.3 681.5,332.4 681.7,334.0 682.0,338.1 682.2,345.2 682.5,356.1 682.7,372.6 683.0,399.9 683.2,431.1 683.5,431.1 683.7,398.8 684.0,372.2 684.3,356.1 684.5,345.5 684.8,338.7 685.0,334.8 685.3,333.3 685.5,334.3 685.8,337.7 686.0,343.8 686.3,353.3 686.5,367.7 686.8,390.5 687.0,431.1 687.3,431.1 687.6,413.6 687.8,380.9 688.1,362.1 688.3,349.9 688.6,341.9 688.8,336.9 689.1,334.6 689.3,334.5 689.6,336.8 689.8,341.7 690.1,349.5 690.3,361.3 690.6,379.4 690.9,409.8 691.1,431.1 691.4,431.1 691.6,395.8 691.9,371.7 692.1,356.7 692.4,346.7 692.6,340.2 692.9,336.5 693.1,335.2 693.4,336.2 693.6,339.4 693.9,345.3 694.2,354.5 694.4,368.2 694.7,389.4 694.9,428.3 695.2,431.1 695.4,423.7 695.7,387.4 695.9,367.2 696.2,354.1 696.4,345.4 696.7,339.9 696.9,336.9 697.2,336.2" fill="none" stroke="#c8c8c8" stroke-width="0.8" stroke-linejoin="round"/><path clip-path="url(#cl)" d="M125.0,300.0 125.3,300.7 125.6,302.7 125.9,305.5 126.2,308.9 126.6,312.7 126.9,316.8 127.2,321.3 127.5,326.1 127.8,331.3 128.1,337.0 128.4,343.0 128.8,349.7 129.1,357.1 129.4,365.4 129.7,375.1 130.0,387.0 130.3,364.2 130.6,348.7 130.9,336.4 131.2,326.0 131.4,316.7 131.7,308.3 132.0,300.6 132.3,293.4 132.6,286.7 132.9,280.5 133.2,274.7 133.4,269.4 133.7,264.6 134.0,260.6 134.3,257.8 134.6,256.7 134.8,257.8 135.0,260.6 135.2,264.6 135.4,269.4 135.6,274.7 135.8,280.5 136.0,286.7 136.1,293.4 136.3,300.6 136.5,308.3 136.7,316.7 136.9,326.0 137.1,336.4 137.3,348.7 137.5,364.2 137.7,387.0 137.8,372.6 137.9,361.3 138.1,351.8 138.2,343.5 138.3,336.1 138.4,329.3 138.5,323.1 138.6,317.3 138.8,311.9 138.9,307.0 139.0,302.4 139.1,298.1 139.2,294.4 139.4,291.2 139.5,289.0 139.6,288.2 139.9,289.1 140.1,291.4 140.4,294.8 140.6,298.8 140.9,303.2 141.1,308.1 141.4,313.4 141.6,319.0 141.9,325.1 142.2,331.7 142.4,338.9 142.7,346.7 142.9,355.5 143.2,365.7 143.4,377.9 143.7,394.0 143.9,384.4 144.2,376.2 144.4,369.0 144.7,362.5 144.9,356.7 145.2,351.3 145.4,346.3 145.6,341.6 145.9,337.3 146.1,333.4 146.4,329.7 146.6,326.3 146.9,323.4 147.1,320.9 147.4,319.1 147.6,318.5 147.8,318.9 147.9,320.1 148.1,321.8 148.2,323.8 148.4,326.2 148.5,328.7 148.7,331.5 148.8,334.5 149.0,337.7 149.2,341.1 149.3,344.8 149.5,348.8 149.6,353.0 149.8,357.6 149.9,362.6 150.1,368.0 150.5,354.9 150.9,344.4 151.4,335.4 151.8,327.6 152.2,320.5 152.7,314.1 153.1,308.1 153.5,302.7 153.9,297.6 154.3,292.8 154.8,288.4 155.2,284.4 155.6,280.9 156.1,277.9 156.5,275.8 156.9,275.0 156.9,275.0 157.0,275.1 157.0,275.1 157.0,275.2 157.1,275.3 157.1,275.5 157.1,275.6 157.2,275.7 157.2,275.9 157.2,276.0 157.2,276.2 157.3,276.3 157.3,276.5 157.3,276.7 157.4,276.8 157.4,277.0 157.5,273.6 157.7,270.4 157.8,267.4 157.9,264.6 158.1,261.9 158.2,259.3 158.3,256.9 158.4,254.7 158.6,252.6 158.7,250.6 158.8,248.9 159.0,247.2 159.1,245.8 159.2,244.6 159.4,243.8 159.5,243.5 159.8,244.0 160.0,245.5 160.3,247.6 160.5,250.1 160.8,252.9 161.0,256.1 161.3,259.5 161.6,263.1 161.8,267.1 162.1,271.3 162.3,275.9 162.6,280.8 162.8,286.2 163.1,292.1 163.3,298.6 163.6,306.0 163.6,305.8 163.7,305.7 163.7,305.5 163.8,305.3 163.8,305.2 163.8,305.0 163.9,304.9 163.9,304.7 163.9,304.6 164.0,304.5 164.0,304.3 164.0,304.2 164.1,304.1 164.1,304.1 164.2,304.0 164.2,304.0 164.3,304.7 164.5,306.7 164.6,309.5 164.8,312.8 164.9,316.5 165.1,320.6 165.2,325.1 165.3,329.9 165.5,335.0 165.6,340.6 165.8,346.6 165.9,353.2 166.1,360.5 166.2,368.8 166.4,378.3 166.5,390.0 166.8,384.3 167.2,379.1 167.5,374.4 167.8,370.0 168.2,365.9 168.5,362.1 168.8,358.5 169.2,355.2 169.5,352.1 169.8,349.2 170.1,346.6 170.5,344.2 170.8,342.1 171.1,340.4 171.5,339.2 171.8,338.7 171.9,339.3 172.1,341.0 172.2,343.4 172.4,346.3 172.5,349.6 172.6,353.2 172.8,357.1 172.9,361.3 173.0,365.8 173.2,370.6 173.3,375.9 173.4,381.6 173.6,387.9 173.7,394.9 173.9,402.8 174.0,410.0 174.6,388.8 175.1,373.2 175.7,360.8 176.2,350.3 176.8,340.9 177.4,332.5 177.9,324.7 178.5,317.5 179.1,310.8 179.6,304.5 180.2,298.7 180.8,293.3 181.3,288.5 181.9,284.4 182.4,281.6 183.0,280.5 183.2,280.9 183.3,282.1 183.5,283.8 183.7,285.8 183.8,288.2 184.0,290.7 184.2,293.5 184.3,296.5 184.5,299.7 184.7,303.1 184.9,306.8 185.0,310.8 185.2,315.0 185.4,319.6 185.5,324.6 185.7,330.0 185.9,322.8 186.0,316.4 186.2,310.6 186.3,305.3 186.5,300.5 186.7,296.0 186.8,291.8 187.0,287.9 187.2,284.3 187.3,281.0 187.5,277.9 187.7,275.1 187.8,272.6 188.0,270.6 188.1,269.1 188.3,268.6 188.5,269.4 188.6,271.5 188.8,274.5 188.9,278.1 189.1,282.1 189.2,286.5 189.3,291.2 189.5,296.4 189.7,301.9 189.8,307.8 189.9,314.3 190.1,321.4 190.2,329.3 190.4,338.2 190.5,348.8 190.7,362.0 190.9,359.8 191.1,357.6 191.4,355.6 191.6,353.6 191.8,351.7 192.0,350.0 192.2,348.3 192.4,346.7 192.7,345.2 192.9,343.8 193.1,342.5 193.3,341.3 193.5,340.3 193.8,339.5 194.0,338.9 194.2,338.7 194.4,339.1 194.5,340.2 194.7,341.7 194.9,343.6 195.1,345.8 195.2,348.1 195.4,350.7 195.6,353.4 195.8,356.4 195.9,359.6 196.1,363.0 196.3,366.6 196.5,370.5 196.7,374.7 196.8,379.1 197.0,384.0 197.4,376.4 197.7,369.6 198.1,363.6 198.4,358.1 198.8,353.1 199.2,348.4 199.5,344.1 199.9,340.0 200.3,336.3 200.6,332.8 201.0,329.7 201.4,326.7 201.7,324.2 202.1,322.0 202.4,320.6 202.8,320.0 202.9,320.0 203.1,320.2 203.2,320.4 203.4,320.6 203.5,320.9 203.6,321.1 203.8,321.5 203.9,321.8 204.0,322.1 204.2,322.5 204.3,322.9 204.4,323.3 204.6,323.7 204.7,324.1 204.9,324.6 205.0,325.0 205.3,321.7 205.6,318.5 205.9,315.5 206.2,312.7 206.5,310.0 206.8,307.5 207.1,305.1 207.4,302.9 207.8,300.8 208.1,298.9 208.4,297.1 208.7,295.5 209.0,294.1 209.3,292.9 209.6,292.1 209.9,291.8 210.2,292.6 210.5,294.9 210.7,298.1 211.0,301.9 211.3,306.1 211.6,310.8 211.9,315.8 212.2,321.3 212.4,327.1 212.7,333.4 213.0,340.2 213.3,347.7 213.6,356.1 213.8,365.8 214.1,377.2 214.4,392.0 214.6,385.0 214.8,378.8 214.9,373.1 215.1,368.0 215.3,363.2 215.5,358.8 215.7,354.7 215.9,350.9 216.0,347.4 216.2,344.1 216.4,341.1 216.6,338.4 216.8,335.9 216.9,333.9 217.1,332.5 217.3,332.0 217.4,332.4 217.5,333.3 217.7,334.7 217.8,336.4 217.9,338.3 218.0,340.4 218.1,342.7 218.2,345.2 218.4,347.8 218.5,350.6 218.6,353.7 218.7,356.9 218.8,360.3 219.0,363.9 219.1,367.8 219.2,372.0 219.4,367.0 219.7,362.3 219.9,358.0 220.1,354.0 220.4,350.3 220.6,346.8 220.9,343.5 221.1,340.5 221.3,337.6 221.6,335.0 221.8,332.6 222.1,330.4 222.3,328.4 222.5,326.8 222.8,325.7 223.0,325.3 223.2,326.0 223.3,328.0 223.5,330.8 223.6,334.2 223.8,337.9 223.9,342.1 224.1,346.5 224.2,351.4 224.4,356.5 224.6,362.1 224.7,368.2 224.9,374.9 225.0,382.2 225.2,390.5 225.3,400.2 225.5,410.0 225.6,401.1 225.8,392.1 225.9,384.3 226.0,377.3 226.1,370.9 226.2,365.1 226.4,359.8 226.5,354.8 226.6,350.2 226.8,346.0 226.9,342.0 227.0,338.4 227.1,335.2 227.2,332.6 227.4,330.7 227.5,330.0 227.6,330.7 227.7,332.6 227.8,335.2 227.9,338.4 228.0,342.0 228.1,346.0 228.2,350.2 228.2,354.8 228.3,359.8 228.4,365.1 228.5,370.9 228.6,377.3 228.7,384.3 228.8,392.1 228.9,401.1 229.0,410.0 229.1,380.6 229.3,361.9 229.4,347.6 229.5,335.5 229.7,324.9 229.8,315.3 229.9,306.4 230.1,298.2 230.2,290.5 230.3,283.3 230.4,276.6 230.6,270.3 230.7,264.7 230.8,260.0 231.0,256.7 231.1,255.4 231.2,256.1 231.3,258.0 231.3,260.7 231.4,263.9 231.5,267.6 231.6,271.6 231.6,275.9 231.7,280.6 231.8,285.6 231.9,291.0 231.9,296.9 232.0,303.3 232.1,310.4 232.2,318.3 232.2,327.5 232.3,338.6 232.4,337.7 232.5,336.8 232.5,336.0 232.6,335.1 232.7,334.3 232.8,333.5 232.8,332.8 232.9,332.1 233.0,331.4 233.1,330.8 233.1,330.2 233.2,329.7 233.3,329.2 233.4,328.8 233.4,328.6 233.5,328.5 233.6,329.2 233.7,331.1 233.8,333.8 233.9,337.0 234.0,340.7 234.1,344.7 234.2,349.0 234.3,353.7 234.3,358.7 234.4,364.2 234.5,370.1 234.6,376.5 234.7,383.6 234.8,391.6 234.9,400.8 235.0,410.0 235.1,398.6 235.2,388.0 235.3,379.0 235.4,371.1 235.5,363.9 235.6,357.4 235.7,351.4 235.8,345.9 235.8,340.8 235.9,336.0 236.0,331.6 236.1,327.5 236.2,323.9 236.3,320.9 236.4,318.8 236.5,318.0 236.6,318.3 236.7,319.1 236.7,320.2 236.8,321.6 236.9,323.1 237.0,324.8 237.1,326.7 237.2,328.7 237.2,330.9 237.3,333.2 237.4,335.6 237.5,338.2 237.6,340.9 237.6,343.8 237.7,346.8 237.8,350.0 237.9,343.4 238.0,337.6 238.2,332.2 238.3,327.3 238.4,322.7 238.5,318.5 238.6,314.6 238.8,311.0 238.9,307.6 239.0,304.4 239.1,301.5 239.2,298.9 239.3,296.6 239.5,294.6 239.6,293.3 239.7,292.8 239.8,293.8 239.9,296.4 239.9,300.1 240.0,304.5 240.1,309.5 240.2,314.9 240.3,320.7 240.3,326.9 240.4,333.6 240.5,340.8 240.6,348.6 240.7,357.3 240.7,367.0 240.8,378.4 240.9,392.4 241.0,410.0 241.1,403.5 241.1,396.1 241.2,389.5 241.3,383.5 241.4,378.1 241.5,373.1 241.5,368.4 241.6,364.1 241.7,360.1 241.8,356.4 241.9,353.0 241.9,349.9 242.0,347.1 242.1,344.8 242.2,343.2 242.3,342.6 242.4,343.2 242.5,344.8 242.6,347.1 242.7,349.9 242.8,353.0 242.9,356.4 243.0,360.1 243.1,364.1 243.1,368.4 243.2,373.1 243.3,378.1 243.4,383.5 243.5,389.5 243.6,396.1 243.7,403.5 243.8,410.0 243.9,386.9 244.0,370.4 244.1,357.5 244.2,346.6 244.3,336.9 244.4,328.1 244.5,320.1 244.6,312.6 244.7,305.6 244.8,299.1 244.9,293.0 245.0,287.4 245.1,282.4 245.2,278.2 245.3,275.2 245.4,274.1 245.5,274.9 245.6,277.2 245.6,280.3 245.7,284.1 245.8,288.4 245.9,293.0 245.9,298.0 246.0,303.4 246.1,309.2 246.2,315.5 246.2,322.3 246.3,329.8 246.4,338.1 246.5,347.7 246.6,359.1 246.6,373.7 246.7,370.7 246.8,367.8 246.9,365.1 246.9,362.5 247.0,360.1 247.1,357.8 247.2,355.6 247.2,353.5 247.3,351.6 247.4,349.8 247.5,348.2 247.5,346.7 247.6,345.4 247.7,344.3 247.8,343.6 247.9,343.3 247.9,343.6 248.0,344.6 248.1,345.9 248.2,347.6 248.3,349.5 248.4,351.5 248.5,353.8 248.6,356.2 248.7,358.8 248.8,361.5 248.9,364.5 249.0,367.6 249.1,371.0 249.2,374.5 249.3,378.3 249.4,382.3 249.5,367.4 249.6,355.8 249.7,346.1 249.8,337.6 249.9,330.1 249.9,323.2 250.0,316.8 250.1,311.0 250.2,305.5 250.3,300.4 250.4,295.7 250.5,291.4 250.6,287.6 250.7,284.4 250.8,282.1 250.9,281.3 251.0,282.4 251.1,285.2 251.3,289.2 251.4,294.0 251.5,299.4 251.6,305.2 251.7,311.4 251.9,318.1 252.0,325.3 252.1,333.0 252.2,341.4 252.3,350.7 252.4,361.2 252.6,373.6 252.7,389.1 252.8,410.0 252.9,397.7 253.0,386.4 253.1,377.0 253.2,368.7 253.4,361.3 253.5,354.6 253.6,348.4 253.7,342.6 253.8,337.3 253.9,332.3 254.0,327.7 254.2,323.5 254.3,319.8 254.4,316.6 254.5,314.4 254.6,313.6 254.7,314.0 254.8,315.1 255.0,316.7 255.1,318.6 255.2,320.8 255.3,323.2 255.5,325.8 255.6,328.7 255.7,331.7 255.9,334.9 256.0,338.4 256.1,342.1 256.2,346.1 256.4,350.4 256.5,355.0 256.6,360.0 256.7,356.5 256.9,353.2 257.0,350.0 257.2,347.1 257.3,344.3 257.4,341.7 257.6,339.2 257.7,336.9 257.8,334.7 258.0,332.7 258.1,330.8 258.2,329.2 258.4,327.7 258.5,326.5 258.7,325.6 258.8,325.3 258.9,326.0 259.0,328.0 259.0,330.8 259.1,334.2 259.2,337.9 259.3,342.1 259.3,346.5 259.4,351.4 259.5,356.5 259.6,362.1 259.7,368.2 259.7,374.9 259.8,382.2 259.9,390.5 260.0,400.2 260.0,410.0 260.1,399.3 260.2,389.1 260.3,380.4 260.4,372.7 260.4,365.7 260.5,359.4 260.6,353.6 260.7,348.2 260.7,343.2 260.8,338.5 260.9,334.2 261.0,330.3 261.0,326.8 261.1,323.9 261.2,321.9 261.3,321.1 261.3,321.9 261.4,323.9 261.5,326.8 261.6,330.3 261.6,334.2 261.7,338.5 261.8,343.2 261.8,348.2 261.9,353.6 262.0,359.4 262.0,365.7 262.1,372.7 262.2,380.4 262.3,389.1 262.3,399.3 262.4,410.0 262.5,401.1 262.5,392.1 262.6,384.3 262.7,377.3 262.7,370.9 262.8,365.1 262.9,359.8 262.9,354.8 263.0,350.2 263.1,346.0 263.2,342.0 263.2,338.4 263.3,335.2 263.4,332.6 263.4,330.7 263.5,330.0 263.6,330.3 263.7,331.0 263.7,332.1 263.8,333.4 263.9,334.8 264.0,336.4 264.1,338.2 264.1,340.1 264.2,342.1 264.3,344.3 264.4,346.6 264.5,349.0 264.6,351.5 264.6,354.2 264.7,357.0 264.8,360.0 264.9,356.1 265.0,352.4 265.1,349.0 265.2,345.7 265.3,342.7 265.4,339.8 265.5,337.1 265.6,334.6 265.6,332.2 265.7,330.0 265.8,328.0 265.9,326.2 266.0,324.6 266.1,323.3 266.2,322.3 266.3,322.0 266.4,322.2 266.5,322.8 266.5,323.6 266.6,324.6 266.7,325.8 266.8,327.0 266.9,328.4 267.0,329.9 267.0,331.4 267.1,333.1 267.2,334.9 267.3,336.7 267.4,338.7 267.4,340.7 267.5,342.8 267.6,345.0 267.7,344.1 267.8,343.3 267.8,342.5 267.9,341.7 268.0,340.9 268.1,340.1 268.2,339.4 268.2,338.7 268.3,338.1 268.4,337.5 268.5,336.9 268.6,336.4 268.7,336.0 268.7,335.6 268.8,335.4 268.9,335.3 269.0,335.9 269.1,337.4 269.2,339.5 269.2,342.1 269.3,345.0 269.4,348.2 269.5,351.6 269.6,355.4 269.7,359.4 269.8,363.7 269.9,368.4 269.9,373.5 270.0,379.0 270.1,385.0 270.2,391.8 270.3,399.4 270.4,391.6 270.5,384.7 270.6,378.5 270.6,372.9 270.7,367.8 270.8,363.0 270.9,358.6 271.0,354.5 271.1,350.7 271.2,347.2 271.2,343.9 271.3,341.0 271.4,338.4 271.5,336.2 271.6,334.7 271.7,334.1 271.8,334.8 271.8,336.6 271.9,339.1 272.0,342.2 272.0,345.6 272.1,349.4 272.2,353.5 272.3,357.9 272.3,362.6 272.4,367.8 272.5,373.3 272.6,379.3 272.6,386.0 272.7,393.4 272.8,401.9 272.8,410.0 272.9,387.6 273.0,371.5 273.1,358.8 273.1,348.0 273.2,338.4 273.3,329.8 273.3,321.8 273.4,314.4 273.5,307.6 273.6,301.1 273.6,295.1 273.7,289.6 273.8,284.7 273.9,280.6 273.9,277.6 274.0,276.5 274.1,277.0 274.2,278.2 274.3,280.1 274.4,282.2 274.6,284.7 274.7,287.4 274.8,290.4 274.9,293.6 275.0,297.1 275.1,300.7 275.2,304.7 275.4,309.0 275.5,313.6 275.6,318.6 275.7,324.0 275.8,330.0 275.9,326.3 276.0,322.8 276.1,319.5 276.2,316.4 276.3,313.5 276.4,310.8 276.5,308.2 276.6,305.8 276.6,303.5 276.7,301.4 276.8,299.5 276.9,297.7 277.0,296.2 277.1,294.9 277.2,294.0 277.3,293.7 277.4,294.7 277.5,297.3 277.5,301.0 277.6,305.4 277.7,310.3 277.8,315.6 277.8,321.4 277.9,327.6 278.0,334.2 278.1,341.4 278.2,349.2 278.2,357.8 278.3,367.5 278.4,378.7 278.5,392.7 278.5,410.0 278.6,403.8 278.7,396.6 278.8,390.2 278.9,384.4 278.9,379.1 279.0,374.2 279.1,369.6 279.2,365.4 279.2,361.5 279.3,357.9 279.4,354.5 279.5,351.5 279.6,348.8 279.6,346.5 279.7,345.0 279.8,344.4 279.9,345.0 279.9,346.5 280.0,348.8 280.1,351.5 280.2,354.5 280.2,357.9 280.3,361.5 280.4,365.4 280.5,369.6 280.5,374.2 280.6,379.1 280.7,384.4 280.8,390.2 280.8,396.6 280.9,403.8 281.0,410.0 281.1,391.2 281.1,376.6 281.2,364.8 281.3,354.8 281.4,345.9 281.4,337.8 281.5,330.4 281.6,323.5 281.7,317.1 281.7,311.2 281.8,305.6 281.9,300.5 282.0,296.0 282.0,292.1 282.1,289.4 282.2,288.4 282.3,289.0 282.4,290.7 282.4,293.0 282.5,295.9 282.6,299.1 282.7,302.6 282.8,306.4 282.8,310.5 282.9,314.9 283.0,319.7 283.1,324.8 283.2,330.4 283.2,336.6 283.3,343.4 283.4,351.1 283.5,360.0 283.6,356.8 283.6,353.8 283.7,350.9 283.8,348.2 283.9,345.6 283.9,343.1 284.0,340.9 284.1,338.7 284.2,336.7 284.3,334.8 284.3,333.1 284.4,331.5 284.5,330.2 284.6,329.0 284.7,328.3 284.7,328.0 284.8,328.3 284.9,329.0 285.0,330.2 285.1,331.5 285.1,333.1 285.2,334.8 285.3,336.7 285.4,338.7 285.4,340.9 285.5,343.1 285.6,345.6 285.7,348.2 285.7,350.9 285.8,353.8 285.9,356.8 286.0,360.0 286.0,349.7 286.1,341.0 286.2,333.4 286.3,326.6 286.4,320.5 286.4,314.9 286.5,309.7 286.6,304.8 286.7,300.4 286.7,296.2 286.8,292.4 286.9,288.9 287.0,285.8 287.0,283.2 287.1,281.4 287.2,280.7 287.3,281.7 287.4,284.3 287.4,288.1 287.5,292.5 287.6,297.5 287.7,302.9 287.8,308.7 287.9,315.0 287.9,321.7 288.0,329.0 288.1,336.9 288.2,345.6 288.3,355.4 288.3,366.8 288.4,381.0 288.5,400.8 288.6,390.2 288.7,381.2 288.8,373.5 288.8,366.6 288.9,360.3 289.0,354.6 289.1,349.3 289.2,344.4 289.2,339.8 289.3,335.6 289.4,331.7 289.5,328.1 289.6,324.9 289.7,322.3 289.7,320.5 289.8,319.8 289.9,320.5 290.0,322.6 290.1,325.6 290.1,329.1 290.2,333.1 290.3,337.4 290.4,342.2 290.4,347.2 290.5,352.7 290.6,358.6 290.7,365.0 290.8,372.0 290.8,379.8 290.9,388.6 291.0,399.0 291.1,410.0 291.1,382.1 291.2,363.9 291.3,349.9 291.4,338.1 291.4,327.7 291.5,318.3 291.6,309.7 291.7,301.6 291.8,294.1 291.8,287.0 291.9,280.4 292.0,274.4 292.1,268.9 292.1,264.3 292.2,261.0 292.3,259.8 292.4,260.2 292.5,261.1 292.6,262.5 292.7,264.2 292.8,266.1 292.9,268.3 293.0,270.6 293.1,273.0 293.2,275.7 293.3,278.5 293.4,281.6 293.5,284.8 293.6,288.2 293.7,291.9 293.8,295.8 293.9,300.0 294.0,295.1 294.1,290.5 294.2,286.3 294.3,282.3 294.4,278.7 294.5,275.2 294.6,272.0 294.7,269.0 294.8,266.2 294.9,263.6 295.0,261.3 295.1,259.1 295.2,257.2 295.3,255.6 295.4,254.5 295.5,254.1 295.6,255.4 295.6,258.8 295.7,263.5 295.8,269.2 295.9,275.4 295.9,282.2 296.0,289.5 296.1,297.2 296.1,305.5 296.2,314.4 296.3,324.1 296.3,334.7 296.4,346.8 296.5,361.3 296.6,380.1 296.6,410.0 296.7,400.6 296.8,391.2 296.8,383.1 296.9,375.9 297.0,369.4 297.0,363.5 297.1,358.0 297.2,352.9 297.3,348.2 297.3,343.8 297.4,339.8 297.5,336.1 297.5,332.8 297.6,330.1 297.7,328.1 297.8,327.4 297.8,328.1 297.9,330.1 298.0,332.8 298.1,336.1 298.2,339.8 298.3,343.8 298.4,348.2 298.5,352.9 298.6,358.0 298.6,363.5 298.7,369.4 298.8,375.9 298.9,383.1 299.0,391.2 299.1,400.6 299.2,410.0 299.3,394.8 299.4,382.0 299.4,371.5 299.5,362.4 299.6,354.2 299.7,346.9 299.8,340.1 299.9,333.8 300.0,327.9 300.1,322.5 300.2,317.5 300.2,312.8 300.3,308.7 300.4,305.3 300.5,302.8 300.6,301.9 300.7,302.8 300.9,305.3 301.0,308.7 301.1,312.8 301.2,317.5 301.4,322.5 301.5,327.9 301.6,333.8 301.7,340.1 301.9,346.9 302.0,354.2 302.1,362.4 302.2,371.5 302.4,382.0 302.5,394.8 302.6,410.0 302.8,392.7 302.9,378.7 303.1,367.5 303.2,357.8 303.4,349.2 303.6,341.4 303.7,334.2 303.9,327.6 304.1,321.4 304.2,315.6 304.4,310.3 304.6,305.4 304.7,301.0 304.9,297.3 305.0,294.7 305.2,293.7 305.3,294.4 305.3,296.1 305.4,298.6 305.4,301.6 305.5,305.0 305.6,308.7 305.6,312.7 305.7,317.1 305.8,321.7 305.8,326.8 305.9,332.2 305.9,338.1 306.0,344.7 306.1,351.9 306.1,360.2 306.2,370.0 306.2,367.2 306.3,364.6 306.4,362.0 306.4,359.6 306.5,357.3 306.6,355.2 306.6,353.1 306.7,351.2 306.7,349.4 306.8,347.7 306.9,346.2 306.9,344.8 307.0,343.5 307.0,342.5 307.1,341.8 307.2,341.6 307.2,341.8 307.3,342.5 307.4,343.5 307.5,344.8 307.6,346.2 307.7,347.7 307.7,349.4 307.8,351.2 307.9,353.1 308.0,355.2 308.1,357.3 308.2,359.6 308.2,362.0 308.3,364.6 308.4,367.2 308.5,370.0 308.6,358.3 308.6,348.8 308.7,340.5 308.8,333.2 308.9,326.6 309.0,320.6 309.1,315.0 309.1,309.9 309.2,305.1 309.3,300.6 309.4,296.5 309.5,292.8 309.6,289.5 309.6,286.7 309.7,284.7 309.8,284.0 309.9,284.4 310.0,285.5 310.1,287.1 310.2,289.0 310.3,291.2 310.4,293.6 310.5,296.2 310.6,298.9 310.7,302.0 310.8,305.2 310.9,308.6 311.0,312.3 311.1,316.2 311.2,320.5 311.3,325.1 311.4,330.0 311.5,324.3 311.6,319.1 311.7,314.3 311.8,309.9 311.9,305.8 312.0,301.9 312.1,298.4 312.1,295.0 312.2,291.9 312.3,289.1 312.4,286.4 312.5,284.0 312.6,281.9 312.7,280.2 312.8,279.0 312.9,278.5 313.0,278.7 313.0,279.2 313.1,280.0 313.2,281.0 313.2,282.0 313.3,283.2 313.4,284.5 313.4,285.9 313.5,287.4 313.6,288.9 313.7,290.6 313.7,292.3 313.8,294.1 313.9,296.0 313.9,298.0 314.0,300.0 314.1,293.7 314.2,288.0 314.2,282.8 314.3,278.0 314.4,273.5 314.5,269.4 314.6,265.6 314.6,262.0 314.7,258.7 314.8,255.6 314.9,252.8 315.0,250.3 315.1,248.0 315.1,246.1 315.2,244.8 315.3,244.3 315.4,245.6 315.4,249.2 315.5,254.2 315.6,260.2 315.6,266.8 315.7,273.9 315.8,281.5 315.9,289.6 315.9,298.3 316.0,307.6 316.1,317.7 316.1,328.8 316.2,341.5 316.3,356.5 316.3,376.5 316.4,410.0 316.5,402.0 316.5,393.5 316.6,386.0 316.7,379.4 316.8,373.4 316.8,367.8 316.9,362.7 317.0,358.0 317.0,353.6 317.1,349.5 317.2,345.7 317.2,342.3 317.3,339.2 317.4,336.7 317.4,334.9 317.5,334.2 317.6,334.9 317.7,336.7 317.8,339.2 317.9,342.3 318.0,345.7 318.0,349.5 318.1,353.6 318.2,358.0 318.3,362.7 318.4,367.8 318.5,373.4 318.6,379.4 318.6,386.0 318.7,393.5 318.8,402.0 318.9,410.0 319.0,382.3 319.1,364.2 319.2,350.2 319.3,338.4 319.3,328.1 319.4,318.7 319.5,310.0 319.6,302.0 319.7,294.5 319.8,287.4 319.9,280.9 320.0,274.8 320.0,269.4 320.1,264.8 320.2,261.5 320.3,260.3 320.4,260.7 320.5,261.9 320.6,263.6 320.7,265.7 320.8,268.0 320.9,270.5 321.0,273.3 321.1,276.3 321.1,279.5 321.2,283.0 321.3,286.7 321.4,290.7 321.5,294.9 321.6,299.5 321.7,304.5 321.8,310.0 321.9,306.5 322.0,303.1 322.1,299.9 322.2,297.0 322.3,294.1 322.4,291.5 322.5,289.0 322.6,286.7 322.7,284.5 322.8,282.4 322.9,280.6 323.0,278.9 323.1,277.4 323.2,276.2 323.3,275.3 323.4,275.0 323.5,276.1 323.6,279.1 323.7,283.3 323.7,288.3 323.8,293.8 323.9,299.9 324.0,306.3 324.1,313.3 324.2,320.7 324.3,328.7 324.4,337.5 324.4,347.1 324.5,358.0 324.6,370.8 324.7,387.1 324.8,410.0 324.9,398.9 325.0,388.4 325.0,379.5 325.1,371.7 325.2,364.6 325.3,358.2 325.4,352.3 325.5,346.8 325.6,341.7 325.7,336.9 325.7,332.6 325.8,328.6 325.9,325.0 326.0,322.0 326.1,319.9 326.2,319.2 326.2,319.9 326.3,322.0 326.4,325.0 326.4,328.6 326.5,332.6 326.6,336.9 326.6,341.7 326.7,346.8 326.8,352.3 326.8,358.2 326.9,364.6 327.0,371.7 327.0,379.5 327.1,388.4 327.2,398.9 327.2,410.0 327.3,381.2 327.4,362.7 327.4,348.5 327.5,336.5 327.6,326.0 327.6,316.5 327.7,307.7 327.8,299.5 327.8,291.9 327.9,284.7 328.0,278.1 328.0,271.9 328.1,266.4 328.2,261.7 328.2,258.4 328.3,257.1 328.4,257.7 328.6,259.4 328.7,261.8 328.9,264.7 329.0,267.9 329.1,271.5 329.3,275.4 329.4,279.5 329.5,284.0 329.7,288.9 329.8,294.1 329.9,299.8 330.1,306.1 330.2,313.0 330.4,320.9 330.5,330.0 330.6,312.3 330.8,299.2 330.9,288.5 331.0,279.3 331.2,271.0 331.3,263.5 331.4,256.6 331.6,250.3 331.7,244.3 331.8,238.8 331.9,233.7 332.1,229.0 332.2,224.8 332.3,221.3 332.5,218.8 332.6,217.9 332.7,218.6 332.8,220.5 332.9,223.1 333.0,226.3 333.1,229.9 333.2,233.9 333.3,238.2 333.4,242.8 333.5,247.7 333.6,253.1 333.7,258.9 333.8,265.2 333.9,272.2 334.0,280.1 334.1,289.1 334.2,300.0 334.3,292.3 334.4,285.6 334.5,279.5 334.6,274.0 334.7,268.9 334.8,264.3 334.9,259.9 335.0,255.9 335.1,252.2 335.2,248.7 335.3,245.5 335.4,242.6 335.5,240.0 335.6,237.9 335.7,236.4 335.8,235.8 335.9,236.3 336.0,237.6 336.1,239.4 336.2,241.6 336.3,244.1 336.4,246.9 336.5,249.9 336.6,253.1 336.6,256.6 336.7,260.3 336.8,264.3 336.9,268.6 337.0,273.3 337.1,278.4 337.2,283.9 337.3,290.0 338.9,314.3 339.0,310.0 339.1,305.6 339.2,301.3 339.3,296.9 339.3,292.6 339.4,288.3 339.5,284.1 339.6,279.8 339.7,275.6 339.8,271.5 339.9,267.5 340.0,263.6 340.1,260.0 340.1,256.8 340.2,254.5 340.3,253.6 340.4,254.7 340.5,257.7 340.6,261.7 340.7,266.3 340.8,271.2 340.9,276.4 341.0,281.6 341.1,286.9 341.2,292.3 341.3,297.7 341.4,303.2 341.5,308.7 341.6,314.1 341.7,319.7 341.8,325.2 341.9,330.7 342.0,326.5 342.1,322.4 342.2,318.2 342.3,314.1 342.4,310.0 342.5,305.9 342.6,301.8 342.7,297.8 342.8,293.7 342.9,289.8 343.0,285.9 343.1,282.2 343.2,278.8 343.3,275.7 343.4,273.5 343.5,272.7 343.5,273.4 343.6,275.1 343.7,277.4 343.8,280.1 343.9,283.0 344.0,286.0 344.1,289.0 344.2,292.1 344.3,295.3 344.4,298.5 344.5,301.6 344.6,304.8 344.7,308.0 344.7,311.3 344.8,314.5 344.9,317.7 345.0,313.5 345.1,309.3 345.2,305.0 345.3,300.8 345.4,296.7 345.5,292.5 345.6,288.3 345.7,284.2 345.8,280.1 345.9,276.1 346.0,272.2 346.0,268.4 346.1,264.9 346.2,261.8 346.3,259.6 346.4,258.7 346.5,259.8 346.6,262.6 346.7,266.4 346.8,270.7 346.9,275.4 346.9,280.2 347.0,285.1 347.1,290.2 347.2,295.3 347.3,300.4 347.4,305.5 347.5,310.7 347.6,315.9 347.6,321.1 347.7,326.3 347.8,331.5 347.9,325.0 348.0,318.6 348.1,312.1 348.2,305.7 348.3,299.3 348.3,292.9 348.4,286.6 348.5,280.3 348.6,274.1 348.7,267.9 348.8,261.9 348.9,256.1 349.0,250.8 349.1,246.1 349.1,242.6 349.2,241.3 349.3,242.6 349.4,245.8 349.5,250.3 349.6,255.3 349.7,260.8 349.8,266.5 349.9,272.3 349.9,278.2 350.0,284.1 350.1,290.1 350.2,296.2 350.3,302.2 350.4,308.3 350.5,314.4 350.6,320.5 350.7,326.6 350.7,322.1 350.8,317.6 350.9,313.1 351.0,308.6 351.1,304.1 351.2,299.6 351.3,295.2 351.4,290.8 351.5,286.4 351.5,282.1 351.6,277.9 351.7,273.9 351.8,270.1 351.9,266.8 352.0,264.4 352.1,263.5 352.2,264.4 352.3,266.6 352.4,269.8 352.5,273.4 352.6,277.2 352.7,281.2 352.7,285.3 352.8,289.5 352.9,293.7 353.0,297.9 353.1,302.2 353.2,306.4 353.3,310.7 353.4,315.0 353.5,319.3 353.6,323.7 353.7,319.3 353.8,314.9 353.9,310.5 354.0,306.2 354.1,301.9 354.2,297.6 354.3,293.3 354.4,289.0 354.5,284.8 354.6,280.6 354.7,276.6 354.7,272.7 354.8,269.0 354.9,265.9 355.0,263.5 355.1,262.6 355.2,263.4 355.3,265.2 355.4,267.8 355.5,270.7 355.6,273.9 355.7,277.1 355.8,280.5 355.9,283.9 356.0,287.3 356.0,290.8 356.1,294.2 356.2,297.7 356.3,301.2 356.4,304.7 356.5,308.2 356.6,311.8 356.7,307.6 356.8,303.5 356.9,299.3 357.0,295.2 357.1,291.1 357.2,287.0 357.2,282.9 357.3,278.8 357.4,274.8 357.5,270.9 357.6,267.0 357.7,263.3 357.8,259.9 357.9,256.8 358.0,254.6 358.1,253.8 358.2,256.4 358.3,263.4 358.4,273.0 358.5,284.0 358.6,295.7 358.6,308.0 358.7,320.5 358.8,333.2 358.9,346.0 359.0,358.9 359.1,371.9 359.2,385.0 359.3,398.1 359.4,410.0 359.5,410.0 359.6,410.0 359.7,410.0 359.8,409.3 359.9,395.2 360.0,381.2 360.1,367.2 360.2,353.2 360.3,339.4 360.4,325.6 360.5,312.0 360.5,298.6 360.6,285.5 360.7,272.9 360.8,261.1 360.9,250.8 361.0,243.3 361.1,240.5 361.2,241.7 361.3,244.8 361.4,249.2 361.5,254.1 361.6,259.4 361.6,265.0 361.7,270.6 361.8,276.4 361.9,282.2 362.0,288.0 362.1,293.9 362.2,299.8 362.3,305.7 362.4,311.6 362.4,317.6 362.5,323.5 362.6,317.0 362.7,310.5 362.8,304.0 362.9,297.5 363.0,291.0 363.1,284.6 363.2,278.2 363.2,271.8 363.3,265.5 363.4,259.3 363.5,253.3 363.6,247.4 363.7,242.0 363.8,237.2 363.9,233.8 364.0,232.5 364.1,233.6 364.1,236.4 364.2,240.4 364.3,244.9 364.4,249.8 364.5,254.8 364.6,260.0 364.7,265.2 364.8,270.5 364.9,275.9 365.0,281.2 365.1,286.6 365.2,292.0 365.3,297.4 365.3,302.9 365.4,308.3 365.5,303.4 365.6,298.5 365.7,293.7 365.8,288.8 365.9,284.0 366.0,279.2 366.1,274.4 366.2,269.6 366.3,264.9 366.4,260.2 366.5,255.7 366.6,251.4 366.6,247.3 366.7,243.7 366.8,241.1 366.9,240.2 367.0,241.1 367.1,243.4 367.2,246.7 367.3,250.5 367.4,254.5 367.5,258.6 367.6,262.9 367.7,267.2 367.8,271.6 367.8,276.0 367.9,280.4 368.0,284.9 368.1,289.3 368.2,293.8 368.3,298.3 368.4,302.8 368.5,296.3 368.6,289.8 368.7,283.3 368.8,276.8 368.9,270.3 368.9,263.9 369.0,257.4 369.1,251.1 369.2,244.8 369.3,238.6 369.4,232.5 369.5,226.7 369.6,221.3 369.7,216.5 369.8,213.1 369.9,211.8 370.0,213.3 370.1,217.5 370.1,223.2 370.2,229.7 370.3,236.6 370.4,243.9 370.5,251.3 370.6,258.8 370.7,266.4 370.8,274.1 370.9,281.8 371.0,289.5 371.1,297.3 371.2,305.1 371.3,312.8 371.4,320.7 371.5,314.0 371.5,307.4 371.6,300.8 371.7,294.3 371.8,287.7 371.9,281.2 372.0,274.7 372.1,268.3 372.2,261.9 372.3,255.6 372.4,249.5 372.5,243.6 372.6,238.1 372.7,233.3 372.8,229.7 372.9,228.4 372.9,229.0 373.0,230.4 373.1,232.4 373.2,234.7 373.3,237.2 373.4,239.8 373.5,242.4 373.6,245.1 373.7,247.8 373.8,250.5 373.8,253.2 373.9,256.0 374.0,258.7 374.1,261.5 374.2,264.2 374.3,267.0 374.4,262.6 374.5,258.2 374.6,253.9 374.7,249.5 374.8,245.2 374.8,240.8 374.9,236.5 375.0,232.3 375.1,228.0 375.2,223.9 375.3,219.8 375.4,215.9 375.5,212.3 375.6,209.1 375.7,206.7 375.7,205.9 375.8,206.9 375.9,209.6 376.0,213.2 376.1,217.5 376.1,222.0 376.2,226.7 376.3,231.5 376.4,236.4 376.5,241.3 376.5,246.3 376.6,251.3 376.7,256.3 376.8,261.3 376.9,266.4 376.9,271.4 377.0,276.5 377.1,272.1 377.2,267.7 377.3,263.2 377.3,258.8 377.4,254.5 377.5,250.1 377.6,245.7 377.7,241.4 377.7,237.2 377.8,233.0 377.9,228.8 378.0,224.9 378.1,221.2 378.2,218.0 378.2,215.6 378.3,214.7 378.4,216.2 378.5,220.0 378.6,225.1 378.6,231.1 378.7,237.4 378.8,244.0 378.9,250.8 378.9,257.6 379.0,264.6 379.1,271.6 379.2,278.6 379.3,285.6 379.3,292.7 379.4,299.8 379.5,306.9 379.6,314.0 379.7,308.7 379.7,303.3 379.8,298.0 379.9,292.6 380.0,287.3 380.1,282.0 380.1,276.8 380.2,271.5 380.3,266.4 380.4,261.3 380.5,256.3 380.5,251.5 380.6,247.0 380.7,243.1 380.8,240.3 380.9,239.2 380.9,239.7 381.0,241.1 381.1,243.1 381.2,245.3 381.3,247.6 381.4,250.1 381.4,252.6 381.5,255.1 381.6,257.7 381.7,260.3 381.8,262.9 381.9,265.5 381.9,268.1 382.0,270.8 382.1,273.4 382.2,276.1 382.3,270.9 382.4,265.8 382.4,260.6 382.5,255.5 382.6,250.4 382.7,245.3 382.8,240.3 382.9,235.3 382.9,230.3 383.0,225.4 383.1,220.7 383.2,216.1 383.3,211.8 383.3,208.0 383.4,205.3 383.5,204.3 383.6,205.8 383.7,209.9 383.7,215.5 383.8,221.8 383.9,228.7 384.0,235.8 384.0,243.0 384.1,250.4 384.2,257.9 384.3,265.4 384.4,272.9 384.4,280.5 384.5,288.1 384.6,295.8 384.7,303.4 384.7,311.1 384.8,303.8 384.9,296.5 385.0,289.2 385.0,281.9 385.1,274.7 385.2,267.4 385.3,260.3 385.3,253.1 385.4,246.1 385.5,239.2 385.6,232.4 385.7,225.8 385.7,219.8 385.8,214.4 385.9,210.6 386.0,209.1 386.0,210.4 386.1,214.0 386.2,218.8 386.2,224.3 386.3,230.3 386.4,236.4 386.5,242.8 386.5,249.2 386.6,255.7 386.7,262.2 386.7,268.8 386.8,275.4 386.9,282.0 387.0,288.6 387.0,295.2 387.1,301.9 387.2,295.0 387.2,288.1 387.3,281.3 387.4,274.4 387.5,267.6 387.5,260.8 387.6,254.0 387.7,247.3 387.7,240.7 387.8,234.2 387.9,227.8 388.0,221.6 388.0,215.9 388.1,210.9 388.2,207.2 388.2,205.8 388.3,207.7 388.4,212.4 388.5,218.9 388.6,226.3 388.6,234.2 388.7,242.5 388.8,251.0 388.9,259.6 389.0,268.3 389.0,277.0 389.1,285.8 389.2,294.6 389.3,303.5 389.4,312.4 389.4,321.3 389.5,330.2 389.6,321.0 389.7,311.9 389.8,302.7 389.8,293.6 389.9,284.5 390.0,275.4 390.1,266.4 390.2,257.5 390.2,248.6 390.3,239.9 390.4,231.4 390.5,223.2 390.6,215.6 390.6,208.9 390.7,204.1 390.8,202.2 390.9,202.9 390.9,204.9 391.0,207.6 391.1,210.6 391.1,213.9 391.2,217.3 391.3,220.8 391.4,224.3 391.4,227.9 391.5,231.5 391.6,235.1 391.6,238.7 391.7,242.4 391.8,246.0 391.8,249.7 391.9,253.4 392.0,248.4 392.0,243.4 392.1,238.5 392.2,233.5 392.2,228.6 392.3,223.7 392.4,218.8 392.5,213.9 392.5,209.1 392.6,204.4 392.7,199.8 392.7,195.3 392.8,191.2 392.9,187.5 392.9,184.9 393.0,183.9 393.1,184.3 393.1,185.3 393.2,186.8 393.3,188.4 393.3,190.1 393.4,192.0 393.5,193.8 393.5,195.7 393.6,197.6 393.7,199.6 393.7,201.5 393.8,203.4 393.9,205.4 394.0,207.3 394.0,209.3 394.1,211.3 394.2,209.1 394.2,207.0 394.3,204.9 394.4,202.8 394.4,200.6 394.5,198.5 394.6,196.4 394.6,194.4 394.7,192.3 394.8,190.3 394.8,188.3 394.9,186.4 395.0,184.6 395.0,183.1 395.1,182.0 395.2,181.5 395.2,182.9 395.3,186.4 395.4,191.2 395.5,196.8 395.5,202.7 395.6,208.9 395.7,215.2 395.8,221.6 395.8,228.1 395.9,234.6 396.0,241.1 396.1,247.7 396.1,254.3 396.2,261.0 396.3,267.6 396.4,274.3 396.4,266.6 396.5,259.0 396.6,251.4 396.7,243.7 396.7,236.2 396.8,228.6 396.9,221.1 397.0,213.7 397.0,206.3 397.1,199.0 397.2,191.9 397.3,185.1 397.3,178.7 397.4,173.2 397.5,169.1 397.6,167.6 397.6,168.3 397.7,170.1 397.8,172.6 397.8,175.4 397.9,178.5 398.0,181.7 398.0,184.9 398.1,188.2 398.2,191.5 398.2,194.9 398.3,198.3 398.4,201.7 398.4,205.1 398.5,208.5 398.6,211.9 398.6,215.3 398.7,211.2 398.8,207.2 398.8,203.1 398.9,199.1 399.0,195.0 399.0,191.0 399.1,187.0 399.2,183.0 399.2,179.1 399.3,175.2 399.4,171.5 399.4,167.8 399.5,164.4 399.6,161.5 399.6,159.3 399.7,158.5 399.8,159.2 399.8,161.1 399.9,163.7 400.0,166.6 400.0,169.8 400.1,173.1 400.2,176.5 400.2,179.9 400.3,183.4 400.4,186.9 400.4,190.4 400.5,193.9 400.6,197.5 400.6,201.0 400.7,204.6 400.8,208.1 400.9,204.0 400.9,199.8 401.0,195.7 401.1,191.6 401.1,187.5 401.2,183.4 401.3,179.3 401.3,175.3 401.4,171.3 401.5,167.4 401.5,163.5 401.6,159.8 401.7,156.4 401.7,153.4 401.8,151.2 401.9,150.3 401.9,151.7 402.0,155.4 402.1,160.4 402.1,166.2 402.2,172.4 402.3,178.8 402.3,185.4 402.4,192.1 402.5,198.8 402.5,205.6 402.6,212.5 402.7,219.4 402.7,226.2 402.8,233.1 402.9,240.1 402.9,247.0 403.0,238.8 403.1,230.5 403.1,222.3 403.2,214.2 403.3,206.0 403.3,197.9 403.4,189.8 403.5,181.8 403.5,173.8 403.6,166.0 403.7,158.4 403.7,151.0 403.8,144.2 403.9,138.2 403.9,133.8 404.0,132.2 404.1,132.4 404.1,133.0 404.2,133.9 404.3,134.8 404.3,135.9 404.4,137.0 404.5,138.1 404.5,139.2 404.6,140.3 404.7,141.5 404.7,142.6 404.8,143.8 404.9,145.0 404.9,146.1 405.0,147.3 405.1,148.5 405.1,146.3 405.2,144.1 405.3,142.0 405.3,139.8 405.4,137.6 405.4,135.5 405.5,133.4 405.6,131.3 405.6,129.2 405.7,127.1 405.8,125.1 405.8,123.1 405.9,121.3 406.0,119.8 406.0,118.6 406.1,118.2 406.2,118.6 406.2,119.8 406.3,121.5 406.4,123.4 406.4,125.4 406.5,127.5 406.5,129.7 406.6,131.9 406.7,134.1 406.7,136.3 406.8,138.6 406.9,140.8 406.9,143.1 407.0,145.4 407.1,147.6 407.1,149.9 407.2,146.3 407.3,142.7 407.3,139.1 407.4,135.5 407.4,131.9 407.5,128.3 407.6,124.8 407.6,121.3 407.7,117.8 407.8,114.4 407.8,111.0 407.9,107.8 408.0,104.8 408.0,102.1 408.1,100.2 408.1,99.5 408.2,102.6 408.3,110.8 408.3,122.1 408.4,135.0 408.5,148.8 408.5,163.2 408.6,177.9 408.7,192.8 408.7,207.9 408.8,223.1 408.8,238.3 408.9,253.7 409.0,269.1 409.0,284.5 409.1,300.0 409.2,315.5 409.2,315.5 409.3,177.7 409.4,136.9 409.6,112.3 409.7,94.5 409.9,80.6 410.0,69.3 410.2,59.7 410.3,51.6 410.4,44.7 410.6,38.7 410.7,33.5 410.9,29.0 411.0,25.2 411.1,22.0 411.3,19.4 411.4,17.2 411.6,15.6 411.7,14.4 411.9,13.7 412.0,13.5 412.1,13.7 412.3,14.4 412.4,15.6 412.6,17.2 412.7,19.4 412.9,22.0 413.0,25.2 413.1,29.0 413.3,33.5 413.4,38.7 413.6,44.7 413.7,51.6 413.8,59.7 414.0,69.3 414.1,80.6 414.3,94.5 414.4,112.3 414.6,136.9 414.7,177.7 414.8,315.5 414.8,315.5 414.9,300.0 415.0,284.6 415.0,269.2 415.1,253.9 415.2,238.6 415.2,223.4 415.3,208.2 415.4,193.2 415.4,178.3 415.5,163.7 415.6,149.4 415.6,135.6 415.7,122.7 415.8,111.5 415.8,103.3 415.9,100.2 416.0,100.6 416.0,101.5 416.1,102.8 416.2,104.3 416.2,105.8 416.3,107.5 416.3,109.2 416.4,110.9 416.5,112.6 416.5,114.3 416.6,116.1 416.7,117.8 416.7,119.6 416.8,121.3 416.9,123.1 416.9,124.9 417.0,124.4 417.1,124.0 417.1,123.5 417.2,123.1 417.2,122.6 417.3,122.2 417.4,121.8 417.4,121.3 417.5,120.9 417.6,120.5 417.6,120.1 417.7,119.7 417.8,119.3 417.8,119.0 417.9,118.7 417.9,118.6 418.0,119.1 418.1,120.2 418.1,121.7 418.2,123.4 418.3,125.3 418.3,127.3 418.4,129.2 418.5,131.3 418.5,133.3 418.6,135.4 418.7,137.4 418.7,139.5 418.8,141.6 418.9,143.7 418.9,145.8 419.0,147.9 419.1,146.6 419.1,145.4 419.2,144.1 419.3,142.9 419.3,141.7 419.4,140.5 419.5,139.2 419.5,138.0 419.6,136.8 419.6,135.7 419.7,134.5 419.8,133.4 419.8,132.4 419.9,131.5 420.0,130.8 420.0,130.6 420.1,132.7 420.2,138.1 420.2,145.6 420.3,154.2 420.4,163.4 420.4,173.0 420.5,182.8 420.6,192.7 420.6,202.8 420.7,212.9 420.8,223.1 420.8,233.3 420.9,243.6 421.0,253.9 421.0,264.2 421.1,274.5 421.2,265.2 421.2,255.8 421.3,246.5 421.4,237.2 421.4,228.0 421.5,218.7 421.6,209.6 421.6,200.5 421.7,191.4 421.8,182.6 421.8,173.9 421.9,165.6 422.0,157.8 422.0,151.0 422.1,146.0 422.2,144.1 422.2,144.7 422.3,146.1 422.4,148.0 422.4,150.1 422.5,152.5 422.6,154.9 422.7,157.4 422.7,159.9 422.8,162.5 422.9,165.0 422.9,167.6 423.0,170.2 423.1,172.8 423.1,175.4 423.2,178.0 423.3,180.6 423.3,179.0 423.4,177.3 423.5,175.6 423.5,173.9 423.6,172.2 423.7,170.6 423.7,168.9 423.8,167.3 423.9,165.6 423.9,164.0 424.0,162.5 424.1,161.0 424.2,159.6 424.2,158.3 424.3,157.4 424.4,157.1 424.4,161.2 424.5,171.8 424.6,186.4 424.6,203.2 424.7,221.1 424.7,239.8 424.8,258.9 424.9,278.2 424.9,297.8 425.0,317.6 425.1,337.4 425.1,357.3 425.2,377.3 425.3,397.4 425.3,410.0 425.4,410.0 425.4,410.0 425.5,399.2 425.6,380.0 425.6,360.9 425.7,341.9 425.8,322.9 425.8,304.1 425.9,285.4 426.0,266.8 426.0,248.6 426.1,230.8 426.2,213.7 426.2,197.7 426.3,183.7 426.3,173.5 426.4,169.6 426.5,173.5 426.6,183.7 426.6,197.7 426.7,213.7 426.8,230.8 426.9,248.6 426.9,266.8 427.0,285.4 427.1,304.1 427.2,322.9 427.2,341.9 427.3,360.9 427.4,380.0 427.5,399.2 427.5,410.0 427.6,410.0 427.7,410.0 427.8,399.0 427.8,379.8 427.9,360.6 428.0,341.5 428.1,322.4 428.2,303.5 428.2,284.7 428.3,266.1 428.4,247.8 428.5,229.9 428.5,212.7 428.6,196.6 428.7,182.6 428.8,172.3 428.8,168.4 428.9,169.2 429.0,171.2 429.1,173.9 429.1,177.0 429.2,180.4 429.3,183.9 429.3,187.4 429.4,191.1 429.5,194.7 429.6,198.4 429.6,202.1 429.7,205.8 429.8,209.6 429.8,213.3 429.9,217.1 430.0,220.8 430.1,218.8 430.1,216.9 430.2,214.9 430.3,212.9 430.3,211.0 430.4,209.0 430.5,207.1 430.6,205.1 430.6,203.2 430.7,201.3 430.8,199.5 430.9,197.7 430.9,196.1 431.0,194.7 431.1,193.6 431.1,193.2 431.2,194.5 431.3,198.0 431.4,202.7 431.5,208.1 431.5,213.9 431.6,219.9 431.7,226.0 431.8,232.3 431.8,238.6 431.9,245.0 432.0,251.4 432.1,257.8 432.2,264.3 432.2,270.7 432.3,277.2 432.4,283.7 432.5,277.6 432.5,271.5 432.6,265.4 432.7,259.4 432.8,253.3 432.8,247.3 432.9,241.3 433.0,235.3 433.1,229.5 433.2,223.7 433.2,218.0 433.3,212.5 433.4,207.5 433.5,203.0 433.5,199.8 433.6,198.5 433.7,199.7 433.8,202.8 433.9,207.1 433.9,211.9 434.0,217.2 434.1,222.6 434.2,228.1 434.2,233.7 434.3,239.4 434.4,245.2 434.5,250.9 434.5,256.7 434.6,262.5 434.7,268.3 434.8,274.2 434.8,280.0 434.9,274.0 435.0,268.0 435.1,262.0 435.1,256.0 435.2,250.1 435.3,244.1 435.4,238.2 435.4,232.4 435.5,226.6 435.6,220.9 435.7,215.3 435.7,209.9 435.8,204.9 435.9,200.6 436.0,197.4 436.0,196.1 436.1,197.9 436.2,202.4 436.3,208.7 436.3,215.8 436.4,223.5 436.5,231.4 436.6,239.5 436.6,247.8 436.7,256.2 436.8,264.6 436.8,273.0 436.9,281.5 437.0,290.1 437.1,298.6 437.1,307.2 437.2,315.8 437.3,307.3 437.3,298.9 437.4,290.5 437.5,282.1 437.6,273.7 437.6,265.4 437.7,257.1 437.8,248.9 437.8,240.8 437.9,232.8 438.0,225.0 438.1,217.4 438.1,210.4 438.2,204.3 438.3,199.8 438.3,198.1 438.4,199.4 438.5,202.8 438.6,207.4 438.6,212.7 438.7,218.4 438.8,224.3 438.9,230.4 438.9,236.6 439.0,242.8 439.1,249.0 439.1,255.3 439.2,261.7 439.3,268.0 439.4,274.4 439.4,280.7 439.5,287.1 439.6,281.3 439.7,275.4 439.7,269.6 439.8,263.8 439.9,257.9 440.0,252.2 440.0,246.4 440.1,240.7 440.2,235.1 440.2,229.5 440.3,224.1 440.4,218.8 440.5,214.0 440.5,209.7 440.6,206.6 440.7,205.4 440.8,206.8 440.8,210.5 440.9,215.6 441.0,221.5 441.1,227.7 441.2,234.2 441.2,240.8 441.3,247.6 441.4,254.4 441.5,261.3 441.5,268.2 441.6,275.1 441.7,282.1 441.8,289.1 441.9,296.1 441.9,303.1 442.0,295.7 442.1,288.3 442.2,280.9 442.3,273.5 442.3,266.2 442.4,258.9 442.5,251.7 442.6,244.4 442.6,237.3 442.7,230.3 442.8,223.4 442.9,216.8 443.0,210.7 443.0,205.3 443.1,201.4 443.2,199.9 443.3,201.4 443.4,205.3 443.5,210.7 443.5,216.9 443.6,223.6 443.7,230.5 443.8,237.6 443.9,244.8 444.0,252.0 444.1,259.3 444.1,266.7 444.2,274.1 444.3,281.5 444.4,288.9 444.5,296.3 444.6,303.8 444.7,299.0 444.7,294.1 444.8,289.3 444.9,284.5 445.0,279.7 445.1,275.0 445.2,270.2 445.3,265.5 445.3,260.9 445.4,256.3 445.5,251.8 445.6,247.5 445.7,243.5 445.8,240.0 445.9,237.4 445.9,236.5 446.0,237.7 446.1,241.0 446.2,245.5 446.3,250.7 446.4,256.2 446.4,262.0 446.5,267.8 446.6,273.8 446.7,279.9 446.8,285.9 446.8,292.1 446.9,298.2 447.0,304.4 447.1,310.5 447.2,316.7 447.3,322.9 447.3,314.4 447.4,305.9 447.5,297.4 447.6,288.9 447.7,280.4 447.7,272.0 447.8,263.6 447.9,255.3 448.0,247.1 448.1,239.0 448.2,231.1 448.2,223.4 448.3,216.3 448.4,210.1 448.5,205.6 448.6,203.9 448.7,205.2 448.7,208.6 448.8,213.3 448.9,218.7 449.0,224.5 449.1,230.5 449.2,236.6 449.3,242.9 449.3,249.2 449.4,255.5 449.5,261.9 449.6,268.3 449.7,274.8 449.8,281.2 449.9,287.7 449.9,294.2 450.0,289.6 450.1,285.1 450.2,280.6 450.3,276.1 450.4,271.7 450.5,267.2 450.5,262.8 450.6,258.4 450.7,254.0 450.8,249.7 450.9,245.5 451.0,241.5 451.1,237.7 451.1,234.5 451.2,232.1 451.3,231.2 451.4,232.6 451.5,236.3 451.6,241.5 451.7,247.3 451.7,253.7 451.8,260.2 451.9,266.9 452.0,273.7 452.1,280.6 452.2,287.5 452.3,294.5 452.4,301.5 452.4,308.5 452.5,315.6 452.6,322.6 452.7,329.7 452.8,322.7 452.9,315.7 453.0,308.7 453.1,301.7 453.1,294.7 453.2,287.8 453.3,280.9 453.4,274.0 453.5,267.3 453.6,260.6 453.7,254.1 453.8,247.8 453.8,242.0 453.9,236.8 454.0,233.1 454.1,231.7 454.2,233.1 454.3,236.9 454.4,242.1 454.5,248.0 454.6,254.3 454.6,260.9 454.7,267.6 454.8,274.5 454.9,281.4 455.0,288.3 455.1,295.3 455.2,302.4 455.3,309.4 455.4,316.5 455.4,323.6 455.5,330.7 455.6,322.5 455.7,314.3 455.8,306.1 455.9,297.9 456.0,289.8 456.1,281.7 456.2,273.7 456.2,265.7 456.3,257.8 456.4,250.0 456.5,242.4 456.6,235.0 456.7,228.2 456.8,222.2 456.9,217.9 457.0,216.2 457.0,217.3 457.1,220.1 457.2,223.9 457.3,228.3 457.4,233.0 457.5,237.8 457.6,242.8 457.7,247.9 457.8,253.0 457.9,258.2 458.0,263.4 458.0,268.6 458.1,273.8 458.2,279.1 458.3,284.3 458.4,289.6 458.5,285.5 458.6,281.5 458.7,277.5 458.8,273.5 458.9,269.5 458.9,265.5 459.0,261.5 459.1,257.6 459.2,253.7 459.3,249.8 459.4,246.1 459.5,242.5 459.6,239.1 459.7,236.2 459.8,234.0 459.9,233.2 459.9,234.3 460.0,237.1 460.1,240.9 460.2,245.3 460.3,250.0 460.4,254.9 460.5,259.9 460.6,264.9 460.7,270.1 460.8,275.2 460.9,280.4 461.0,285.6 461.0,290.9 461.1,296.1 461.2,301.4 461.3,306.6 461.4,300.6 461.5,294.5 461.6,288.5 461.7,282.5 461.8,276.5 461.9,270.5 462.0,264.5 462.0,258.6 462.1,252.8 462.2,247.1 462.3,241.4 462.4,236.0 462.5,231.0 462.6,226.6 462.7,223.4 462.8,222.2 462.9,223.6 463.0,227.4 463.1,232.6 463.1,238.5 463.2,244.9 463.3,251.5 463.4,258.3 463.5,265.1 463.6,272.1 463.7,279.1 463.8,286.1 463.9,293.2 464.0,300.3 464.1,307.4 464.2,314.5 464.2,321.7 464.3,314.8 464.4,307.9 464.5,301.0 464.6,294.1 464.7,287.3 464.8,280.4 464.9,273.7 465.0,266.9 465.1,260.3 465.2,253.7 465.2,247.3 465.3,241.1 465.4,235.4 465.5,230.3 465.6,226.7 465.7,225.3 465.8,226.6 465.9,230.1 466.0,234.9 466.1,240.4 466.2,246.3 466.3,252.4 466.4,258.7 466.5,265.0 466.6,271.5 466.6,277.9 466.7,284.4 466.8,291.0 466.9,297.5 467.0,304.1 467.1,310.7 467.2,317.3 467.3,311.4 467.4,305.5 467.5,299.7 467.6,293.8 467.7,288.0 467.8,282.2 467.9,276.4 468.0,270.7 468.1,265.0 468.2,259.4 468.2,254.0 468.3,248.7 468.4,243.8 468.5,239.5 468.6,236.4 468.7,235.2 468.8,236.6 468.9,240.2 469.0,245.2 469.1,250.9 469.2,257.1 469.2,263.4 469.3,269.9 469.4,276.5 469.5,283.2 469.6,290.0 469.7,296.7 469.8,303.5 469.9,310.3 469.9,317.2 470.0,324.0 470.1,330.9 470.2,323.7 470.3,316.6 470.4,309.4 470.5,302.3 470.6,295.2 470.6,288.1 470.7,281.1 470.8,274.1 470.9,267.2 471.0,260.4 471.1,253.8 471.2,247.4 471.2,241.4 471.3,236.2 471.4,232.4 471.5,231.0 471.6,232.0 471.7,234.7 471.8,238.4 471.9,242.7 472.0,247.2 472.1,251.9 472.2,256.8 472.3,261.7 472.4,266.7 472.5,271.7 472.6,276.7 472.7,281.7 472.8,286.8 472.9,291.9 472.9,297.0 473.0,302.1 473.1,297.2 473.2,292.3 473.3,287.4 473.4,282.5 473.5,277.7 473.6,272.8 473.7,268.0 473.8,263.3 473.9,258.6 474.0,253.9 474.1,249.4 474.2,245.0 474.3,240.9 474.4,237.4 474.5,234.8 474.6,233.8 474.7,234.9 474.7,237.9 474.8,241.9 474.9,246.5 475.0,251.5 475.1,256.7 475.2,262.0 475.3,267.3 475.4,272.8 475.4,278.2 475.5,283.7 475.6,289.3 475.7,294.8 475.8,300.4 475.9,305.9 476.0,311.5 476.0,306.8 476.1,302.0 476.2,297.3 476.3,292.6 476.4,287.9 476.5,283.2 476.6,278.6 476.6,274.0 476.7,269.4 476.8,264.9 476.9,260.5 477.0,256.3 477.1,252.3 477.2,248.9 477.2,246.4 477.3,245.4 477.4,246.4 477.5,249.2 477.6,253.0 477.7,257.3 477.8,261.9 477.9,266.7 478.0,271.6 478.1,276.6 478.1,281.7 478.2,286.8 478.3,291.9 478.4,297.0 478.5,302.2 478.6,307.3 478.7,312.5 478.8,317.7 478.9,312.7 479.0,307.6 479.0,302.6 479.1,297.6 479.2,292.6 479.3,287.7 479.4,282.7 479.5,277.8 479.6,273.0 479.7,268.2 479.8,263.5 479.9,259.0 479.9,254.8 480.0,251.2 480.1,248.5 480.2,247.5 480.3,248.6 480.4,251.5 480.5,255.6 480.6,260.2 480.6,265.2 480.7,270.3 480.8,275.6 480.9,280.9 481.0,286.3 481.1,291.8 481.2,297.3 481.2,302.8 481.3,308.3 481.4,313.8 481.5,319.4 481.6,324.9 481.7,321.4 481.8,317.9 481.9,314.4 481.9,310.9 482.0,307.4 482.1,303.9 482.2,300.4 482.3,297.0 482.4,293.6 482.5,290.2 482.5,287.0 482.6,283.8 482.7,280.9 482.8,278.3 482.9,276.4 483.0,275.7 483.1,276.5 483.1,278.3 483.2,280.9 483.3,283.9 483.4,287.1 483.5,290.4 483.6,293.8 483.7,297.2 483.8,300.7 483.9,304.2 483.9,307.7 484.0,311.3 484.1,314.8 484.2,318.4 484.3,322.0 484.4,325.5 485.8,290.0 485.9,283.2 486.0,277.1 486.1,271.6 486.2,266.6 486.3,261.9 486.4,257.6 486.5,253.6 486.6,249.9 486.7,246.4 486.8,243.2 486.9,240.2 487.0,237.5 487.1,235.2 487.2,233.2 487.3,231.8 487.4,231.3 487.5,231.9 487.6,233.5 487.8,235.8 487.9,238.5 488.0,241.6 488.1,245.0 488.2,248.7 488.4,252.6 488.5,256.9 488.6,261.5 488.7,266.5 488.8,271.9 488.9,277.8 489.1,284.3 489.2,291.6 489.3,300.0 489.4,286.6 489.6,275.9 489.7,266.8 489.8,258.8 490.0,251.7 490.1,245.2 490.2,239.2 490.4,233.6 490.5,228.4 490.6,223.6 490.7,219.2 490.9,215.1 491.0,211.5 491.1,208.5 491.3,206.4 491.4,205.6 491.6,206.6 491.7,209.4 491.9,213.2 492.0,217.8 492.2,222.9 492.4,228.5 492.5,234.5 492.7,240.9 492.9,247.8 493.0,255.3 493.2,263.4 493.4,272.3 493.5,282.4 493.7,294.2 493.8,308.9 494.0,330.0 494.2,320.8 494.3,312.9 494.5,305.9 494.7,299.6 494.8,293.9 495.0,288.6 495.2,283.8 495.4,279.3 495.5,275.1 495.7,271.2 495.9,267.6 496.0,264.3 496.2,261.4 496.4,259.0 496.5,257.3 496.7,256.7 496.9,258.0 497.0,261.3 497.2,266.0 497.3,271.5 497.5,277.7 497.6,284.4 497.8,291.6 497.9,299.2 498.1,307.4 498.3,316.2 498.4,325.7 498.6,336.3 498.7,348.3 498.9,362.5 499.0,381.0 499.2,410.0 499.4,381.6 499.5,363.3 499.7,349.2 499.8,337.3 500.0,326.8 500.1,317.4 500.3,308.6 500.4,300.5 500.6,292.9 500.8,285.8 500.9,279.2 501.1,273.1 501.2,267.6 501.4,262.9 501.5,259.6 501.7,258.4 501.9,259.0 502.0,260.7 502.2,263.0 502.3,265.9 502.5,269.1 502.6,272.6 502.8,276.4 502.9,280.5 503.1,284.9 503.3,289.7 503.4,294.8 503.6,300.4 503.7,306.6 503.9,313.4 504.0,321.1 504.2,330.0 504.4,320.5 504.5,312.3 504.7,305.2 504.8,298.8 505.0,292.9 505.1,287.6 505.3,282.6 505.4,278.0 505.6,273.7 505.8,269.8 505.9,266.1 506.1,262.8 506.2,259.8 506.4,257.4 506.5,255.6 506.7,255.0 506.9,256.3 507.1,259.6 507.2,264.4 507.4,270.0 507.6,276.2 507.8,283.0 507.9,290.2 508.1,297.9 508.3,306.1 508.4,315.0 508.6,324.6 508.8,335.3 509.0,347.3 509.1,361.7 509.3,380.4 509.5,410.0 509.6,394.3 509.8,381.3 509.9,370.6 510.1,361.3 510.2,353.1 510.4,345.6 510.5,338.7 510.6,332.3 510.8,326.4 510.9,320.9 511.1,315.8 511.2,311.1 511.4,306.9 511.5,303.4 511.7,300.9 511.8,300.0 511.9,300.3 511.9,301.0 512.0,302.1 512.1,303.4 512.1,304.8 512.2,306.4 512.3,308.2 512.4,310.1 512.4,312.1 512.5,314.3 512.6,316.6 512.6,319.0 512.7,321.5 512.8,324.2 512.8,327.0 512.9,330.0 513.0,324.8 513.1,319.9 513.1,315.5 513.2,311.3 513.3,307.5 513.4,303.9 513.5,300.5 513.5,297.4 513.6,294.5 513.7,291.8 513.8,289.3 513.9,287.0 514.0,285.0 514.0,283.4 514.1,282.2 514.2,281.8 514.4,282.9 514.5,285.7 514.7,289.7 514.9,294.5 515.0,299.8 515.2,305.6 515.3,311.8 515.5,318.5 515.7,325.6 515.8,333.4 516.0,341.8 516.1,351.0 516.3,361.5 516.5,373.8 516.6,389.2 516.8,410.0 517.0,389.7 517.1,374.5 517.3,362.4 517.4,352.0 517.6,342.8 517.8,334.5 517.9,326.9 518.1,319.8 518.3,313.2 518.4,307.0 518.6,301.3 518.8,296.0 518.9,291.3 519.1,287.4 519.2,284.6 519.4,283.5 519.5,283.8 519.6,284.7 519.7,286.0 519.9,287.5 520.0,289.3 520.1,291.2 520.2,293.3 520.3,295.6 520.4,298.0 520.5,300.6 520.6,303.4 520.8,306.3 520.9,309.5 521.0,312.8 521.1,316.3 521.2,320.0 521.3,316.9 521.4,313.9 521.5,311.1 521.6,308.4 521.7,305.8 521.8,303.4 521.9,301.2 522.0,299.1 522.2,297.1 522.3,295.2 522.4,293.6 522.5,292.0 522.6,290.7 522.7,289.6 522.8,288.8 522.9,288.5 523.0,289.5 523.2,292.2 523.3,296.1 523.5,300.6 523.6,305.7 523.8,311.2 523.9,317.2 524.0,323.6 524.2,330.5 524.3,337.9 524.5,346.0 524.6,354.9 524.8,364.9 524.9,376.6 525.1,391.2 525.2,410.0 525.3,379.8 525.5,360.9 525.6,346.5 525.8,334.3 525.9,323.6 526.1,313.9 526.2,305.0 526.4,296.7 526.5,288.9 526.6,281.6 526.8,274.8 526.9,268.5 527.1,262.9 527.2,258.1 527.4,254.7 527.5,253.4 527.6,253.9 527.8,255.2 527.9,257.1 528.0,259.4 528.2,262.0 528.3,264.9 528.5,268.0 528.6,271.4 528.7,275.0 528.9,278.9 529.0,283.1 529.2,287.6 529.3,292.4 529.4,297.7 529.6,303.5 529.7,310.0 529.8,306.7 530.0,303.5 530.1,300.5 530.2,297.7 530.4,295.0 530.5,292.5 530.6,290.1 530.8,287.9 530.9,285.8 531.0,283.9 531.1,282.1 531.3,280.5 531.4,279.1 531.5,277.9 531.7,277.1 531.8,276.8 532.0,277.9 532.1,280.8 532.3,285.0 532.4,289.9 532.6,295.4 532.7,301.4 532.9,307.8 533.0,314.7 533.2,322.0 533.4,330.0 533.5,338.6 533.7,348.1 533.8,358.9 534.0,371.6 534.1,387.7 534.3,410.0 534.5,395.2 534.6,382.7 534.8,372.3 534.9,363.3 535.1,355.3 535.2,348.0 535.4,341.3 535.5,335.1 535.7,329.3 535.9,323.9 536.0,319.0 536.2,314.4 536.3,310.3 536.5,306.9 536.6,304.5 536.8,303.6 536.9,303.8 537.0,304.5 537.1,305.4 537.2,306.6 537.3,307.9 537.4,309.3 537.5,310.9 537.6,312.6 537.8,314.4 537.9,316.3 538.0,318.3 538.1,320.4 538.2,322.7 538.3,325.0 538.4,327.4 538.5,330.0 538.6,328.0 538.7,326.0 538.8,324.2 538.9,322.3 539.0,320.6 539.1,319.0 539.2,317.4 539.4,316.0 539.5,314.6 539.6,313.3 539.7,312.1 539.8,311.0 539.9,310.1 540.0,309.3 540.1,308.8 540.2,308.6 540.3,309.5 540.5,311.8 540.6,315.0 540.7,318.9 540.9,323.3 541.0,328.1 541.1,333.3 541.2,338.8 541.4,344.8 541.5,351.3 541.6,358.3 541.8,366.0 541.9,374.7 542.0,384.6 542.2,396.5 542.3,410.0 542.4,397.7 542.6,386.4 542.7,377.0 542.8,368.7 543.0,361.3 543.1,354.6 543.3,348.4 543.4,342.6 543.5,337.3 543.7,332.3 543.8,327.7 544.0,323.5 544.1,319.8 544.2,316.6 544.4,314.4 544.5,313.6 544.7,314.4 544.9,316.6 545.1,319.8 545.2,323.5 545.4,327.7 545.6,332.3 545.8,337.3 546.0,342.6 546.2,348.4 546.4,354.6 546.6,361.3 546.8,368.7 546.9,377.0 547.1,386.4 547.3,397.7 547.5,410.0 547.7,385.6 548.0,368.6 548.2,355.4 548.4,344.2 548.7,334.3 548.9,325.4 549.1,317.2 549.4,309.5 549.6,302.4 549.8,295.7 550.0,289.5 550.3,283.8 550.5,278.7 550.7,274.3 551.0,271.3 551.2,270.1 551.4,271.3 551.6,274.3 551.8,278.7 552.1,283.8 552.3,289.5 552.5,295.7 552.7,302.4 552.9,309.5 553.1,317.2 553.3,325.4 553.5,334.3 553.8,344.2 554.0,355.4 554.2,368.6 554.4,385.6 554.6,410.0 554.8,391.2 555.0,376.6 555.2,364.9 555.4,354.9 555.6,346.0 555.8,337.9 556.0,330.5 556.2,323.6 556.5,317.2 556.7,311.2 556.9,305.7 557.1,300.6 557.3,296.1 557.5,292.2 557.7,289.5 557.9,288.5 558.0,288.9 558.1,289.9 558.2,291.3 558.3,293.0 558.4,295.0 558.5,297.2 558.6,299.6 558.7,302.1 558.8,304.9 558.9,307.8 559.0,310.9 559.1,314.2 559.2,317.8 559.3,321.6 559.4,325.6 559.5,330.0 559.6,328.1 559.7,326.4 559.8,324.6 559.9,323.0 560.0,321.4 560.1,319.8 560.2,318.4 560.4,317.0 560.5,315.8 560.6,314.6 560.7,313.5 560.8,312.5 560.9,311.6 561.0,310.9 561.1,310.4 561.2,310.2 561.4,311.1 561.5,313.3 561.7,316.6 561.8,320.4 562.0,324.7 562.1,329.5 562.3,334.6 562.5,340.1 562.6,346.0 562.8,352.3 562.9,359.3 563.1,366.9 563.2,375.4 563.4,385.2 563.5,396.9 563.7,410.0 563.9,395.6 564.0,383.3 564.2,373.1 564.4,364.2 564.5,356.2 564.7,349.0 564.8,342.4 565.0,336.3 565.2,330.6 565.3,325.3 565.5,320.4 565.6,315.8 565.8,311.8 566.0,308.5 566.1,306.1 566.3,305.2 566.5,305.6 566.6,306.7 566.8,308.2 566.9,310.1 567.1,312.2 567.2,314.5 567.4,317.1 567.5,319.8 567.7,322.7 567.9,325.9 568.0,329.2 568.2,332.8 568.3,336.7 568.5,340.8 568.6,345.2 568.8,350.0 569.0,341.1 569.1,333.4 569.3,326.6 569.4,320.5 569.6,314.9 569.7,309.8 569.9,305.0 570.0,300.6 570.2,296.5 570.4,292.7 570.5,289.2 570.7,286.0 570.8,283.1 571.0,280.8 571.1,279.1 571.3,278.5 571.4,278.7 571.5,279.2 571.6,280.0 571.7,281.0 571.8,282.0 571.9,283.2 572.0,284.5 572.0,285.9 572.1,287.4 572.2,288.9 572.3,290.6 572.4,292.3 572.5,294.1 572.6,296.0 572.7,298.0 572.8,300.0 572.9,298.5 573.0,297.0 573.1,295.6 573.2,294.2 573.3,292.9 573.4,291.6 573.5,290.4 573.5,289.2 573.6,288.2 573.7,287.2 573.8,286.2 573.9,285.4 574.0,284.7 574.1,284.1 574.2,283.7 574.3,283.5 574.5,284.6 574.8,287.4 575.0,291.3 575.2,296.0 575.5,301.3 575.7,307.0 575.9,313.2 576.1,319.8 576.4,326.9 576.6,334.5 576.8,342.8 577.1,352.0 577.3,362.4 577.5,374.5 577.8,389.7 578.0,410.0 578.2,394.8 578.5,382.0 578.8,371.5 579.0,362.4 579.2,354.2 579.5,346.9 579.8,340.1 580.0,333.8 580.2,327.9 580.5,322.5 580.8,317.5 581.0,312.8 581.2,308.7 581.5,305.3 581.8,302.8 582.0,301.9 582.1,302.2 582.3,303.2 582.4,304.5 582.5,306.1 582.7,307.9 582.8,309.9 583.0,312.1 583.1,314.5 583.2,317.0 583.4,319.7 583.5,322.6 583.7,325.7 583.8,328.9 583.9,332.4 584.1,336.1 584.2,340.0 584.3,337.4 584.5,335.0 584.6,332.7 584.7,330.4 584.9,328.3 585.0,326.3 585.1,324.4 585.2,322.6 585.4,320.9 585.5,319.3 585.6,317.9 585.8,316.6 585.9,315.4 586.0,314.5 586.2,313.8 586.3,313.6 586.4,314.4 586.5,316.6 586.7,319.8 586.8,323.5 586.9,327.7 587.0,332.3 587.2,337.3 587.3,342.6 587.4,348.4 587.5,354.6 587.7,361.3 587.8,368.7 587.9,377.0 588.0,386.4 588.2,397.7 588.3,410.0 588.4,388.8 588.5,373.1 588.7,360.7 588.8,350.1 588.9,340.7 589.0,332.3 589.2,324.5 589.3,317.3 589.4,310.5 589.5,304.2 589.7,298.4 589.8,293.0 589.9,288.2 590.0,284.2 590.2,281.3 590.3,280.2 590.4,280.4 590.5,280.9 590.7,281.6 590.8,282.5 590.9,283.5 591.0,284.6 591.2,285.8 591.3,287.0 591.4,288.4 591.5,289.8 591.7,291.4 591.8,293.0 591.9,294.6 592.0,296.4 592.2,298.1 592.3,300.0 592.4,297.6 592.5,295.3 592.7,293.1 592.8,291.0 592.9,289.0 593.0,287.1 593.2,285.3 593.3,283.6 593.4,282.0 593.5,280.5 593.7,279.2 593.8,277.9 593.9,276.8 594.0,275.9 594.2,275.3 594.3,275.1 594.4,276.2 594.5,279.2 594.7,283.4 594.8,288.4 594.9,293.9 595.0,299.9 595.2,306.4 595.3,313.4 595.4,320.8 595.5,328.8 595.7,337.5 595.8,347.1 595.9,358.0 596.0,370.9 596.2,387.2 596.3,410.0 596.4,394.4 596.6,381.3 596.7,370.7 596.8,361.4 597.0,353.2 597.1,345.7 597.3,338.9 597.4,332.5 597.5,326.6 597.7,321.1 597.8,316.0 598.0,311.3 598.1,307.1 598.2,303.6 598.4,301.1 598.5,300.2 598.7,301.1 598.9,303.6 599.1,307.1 599.2,311.3 599.4,316.0 599.6,321.1 599.8,326.6 600.0,332.5 600.2,338.9 600.4,345.7 600.6,353.2 600.8,361.4 600.9,370.7 601.1,381.3 601.3,394.4 601.5,410.0 601.7,401.2 601.9,392.2 602.0,384.4 602.2,377.4 602.4,371.1 602.6,365.3 602.8,360.0 603.0,355.1 603.1,350.5 603.3,346.2 603.5,342.3 603.7,338.7 603.9,335.5 604.0,332.9 604.2,331.0 604.4,330.3 604.6,331.0 604.8,332.9 605.0,335.5 605.2,338.7 605.4,342.3 605.6,346.2 605.8,350.5 606.0,355.1 606.1,360.0 606.3,365.3 606.5,371.1 606.7,377.4 606.9,384.4 607.1,392.2 607.3,401.2 607.5,410.0 607.7,402.2 607.9,393.8 608.1,386.5 608.3,379.9 608.5,374.0 608.7,368.5 608.9,363.4 609.1,358.8 609.3,354.4 609.5,350.4 609.7,346.6 609.9,343.2 610.1,340.2 610.3,337.7 610.5,336.0 610.7,335.3 610.8,335.5 610.9,336.1 611.1,337.0 611.2,338.1 611.3,339.3 611.4,340.7 611.5,342.1 611.7,343.7 611.8,345.4 611.9,347.2 612.0,349.1 612.1,351.1 612.2,353.2 612.4,355.4 612.5,357.6 612.6,360.0 612.7,352.5 612.9,345.9 613.0,339.9 613.2,334.5 613.3,329.5 613.5,324.9 613.6,320.6 613.8,316.6 613.9,312.9 614.0,309.5 614.2,306.3 614.3,303.5 614.5,300.9 614.6,298.8 614.8,297.3 614.9,296.8 615.1,297.8 615.3,300.3 615.5,303.9 615.8,308.2 616.0,313.0 616.2,318.2 616.4,323.9 616.6,329.9 616.8,336.4 617.0,343.5 617.2,351.1 617.4,359.5 617.7,369.0 617.9,380.0 618.1,393.5 618.3,410.0 618.5,397.4 618.6,386.1 618.8,376.5 619.0,368.2 619.2,360.7 619.4,353.9 619.5,347.7 619.7,341.9 619.9,336.5 620.0,331.5 620.2,326.8 620.4,322.6 620.6,318.8 620.8,315.7 620.9,313.4 621.1,312.6 621.2,312.9 621.4,313.6 621.5,314.7 621.7,316.1 621.8,317.6 622.0,319.3 622.1,321.1 622.2,323.0 622.4,325.1 622.5,327.4 622.7,329.7 622.8,332.2 623.0,334.9 623.1,337.7 623.3,340.6 623.4,343.7 623.6,341.2 623.9,338.8 624.1,336.6 624.4,334.4 624.6,332.3 624.9,330.4 625.1,328.5 625.4,326.7 625.6,325.1 625.9,323.6 626.1,322.2 626.4,320.9 626.6,319.8 626.9,318.9 627.1,318.2 627.4,318.0 627.6,318.1 627.7,318.2 627.9,318.4 628.0,318.7 628.2,319.0 628.4,319.4 628.5,319.7 628.7,320.1 628.9,320.6 629.0,321.0 629.2,321.5 629.4,322.0 629.5,322.5 629.7,323.0 629.8,323.5 630.0,324.0 630.4,320.6 630.9,317.4 631.3,314.3 631.7,311.4 632.2,308.7 632.6,306.2 633.0,303.7 633.5,301.5 633.9,299.4 634.3,297.4 634.7,295.6 635.2,294.0 635.6,292.5 636.0,291.3 636.5,290.5 636.9,290.2 637.5,291.2 638.0,293.9 638.6,297.7 639.1,302.2 639.7,307.2 640.2,312.7 640.8,318.6 641.3,324.9 641.9,331.7 642.5,339.0 643.0,347.0 643.6,355.8 644.1,365.7 644.7,377.3 645.2,391.7 645.8,410.0 646.0,403.4 646.1,395.9 646.3,389.2 646.5,383.2 646.6,377.7 646.8,372.7 647.0,368.0 647.1,363.7 647.3,359.6 647.5,355.9 647.7,352.5 647.8,349.3 648.0,346.5 648.2,344.2 648.3,342.6 648.5,342.0 648.6,342.1 648.7,342.4 648.7,342.7 648.8,343.2 648.9,343.7 649.0,344.3 649.1,344.9 649.1,345.5 649.2,346.2 649.3,347.0 649.4,347.7 649.5,348.5 649.6,349.4 649.6,350.2 649.7,351.1 649.8,352.0 650.0,349.2 650.1,346.6 650.3,344.0 650.5,341.6 650.6,339.3 650.8,337.2 651.0,335.1 651.1,333.2 651.3,331.4 651.5,329.7 651.7,328.2 651.8,326.8 652.0,325.6 652.2,324.6 652.3,323.9 652.5,323.6 652.6,323.9 652.8,324.6 652.9,325.6 653.0,326.8 653.1,328.2 653.2,329.7 653.4,331.4 653.5,333.2 653.6,335.1 653.8,337.2 653.9,339.3 654.0,341.6 654.1,344.0 654.2,346.6 654.4,349.2 654.5,352.0 654.6,346.3 654.8,341.2 654.9,336.4 655.1,332.0 655.2,327.9 655.4,324.1 655.5,320.6 655.6,317.3 655.8,314.2 655.9,311.3 656.1,308.7 656.2,306.3 656.4,304.2 656.5,302.5 656.7,301.3 656.8,300.8 656.9,300.9 657.0,301.3 657.1,301.8 657.2,302.4 657.3,303.2 657.4,304.0 657.5,304.8 657.6,305.8 657.8,306.8 657.9,307.8 658.0,308.9 658.1,310.0 658.2,311.2 658.3,312.4 658.4,313.7 658.5,315.0 658.6,314.0 658.7,312.9 658.8,311.9 658.9,311.0 659.0,310.0 659.1,309.1 659.2,308.3 659.3,307.5 659.4,306.7 659.5,306.0 659.6,305.3 659.7,304.8 659.8,304.2 659.9,303.8 660.0,303.5 660.1,303.4 660.2,303.5 660.2,303.6 660.3,303.9 660.4,304.2 660.4,304.5 660.5,304.9 660.6,305.3 660.7,305.8 660.7,306.2 660.8,306.7 660.9,307.2 660.9,307.7 661.0,308.3 661.1,308.9 661.1,309.4 661.2,310.0 661.4,295.2 661.6,283.8 661.8,274.1 662.1,265.7 662.3,258.2 662.5,251.4 662.7,245.1 662.9,239.3 663.1,233.8 663.3,228.8 663.5,224.1 663.8,219.9 664.0,216.1 664.2,212.9 664.4,210.6 664.6,209.8 664.9,211.2 665.2,215.0 665.5,220.4 665.8,226.6 666.0,233.6 666.3,241.1 666.6,249.2 666.9,257.7 667.2,266.8 667.5,276.6 667.8,287.2 668.1,298.8 668.3,312.0 668.6,327.9 668.9,349.0 669.2,389.0 669.4,383.9 669.6,379.2 669.8,374.9 670.1,370.9 670.3,367.1 670.5,363.6 670.7,360.3 670.9,357.2 671.1,354.4 671.3,351.7 671.5,349.3 671.8,347.1 672.0,345.2 672.2,343.5 672.4,342.4 672.6,342.0 672.7,342.4 672.9,343.3 673.0,344.7 673.1,346.4 673.2,348.3 673.4,350.4 673.5,352.7 673.6,355.2 673.7,357.8 673.9,360.6 674.0,363.7 674.1,366.9 674.2,370.3 674.4,373.9 674.5,377.8 674.6,382.0 674.8,371.4 674.9,362.5 675.1,354.8 675.2,347.9 675.4,341.6 675.5,335.9 675.6,330.6 675.8,325.7 676.0,321.2 676.1,317.0 676.2,313.1 676.4,309.5 676.5,306.4 676.7,303.7 676.9,301.9 677.0,301.2 677.1,301.4 677.3,301.9 677.4,302.7 677.6,303.6 677.7,304.6 677.9,305.8 678.0,307.0 678.1,308.4 678.3,309.8 678.4,311.3 678.6,312.9 678.7,314.6 678.9,316.3 679.0,318.2 679.2,320.0 679.3,322.0 679.4,321.7 679.5,321.4 679.7,321.1 679.8,320.9 679.9,320.6 680.0,320.3 680.2,320.1 680.3,319.8 680.4,319.6 680.5,319.4 680.7,319.2 680.8,319.0 680.9,318.8 681.0,318.7 681.2,318.6 681.3,318.6 681.4,318.7 681.5,318.8 681.6,319.0 681.7,319.2 681.8,319.5 681.9,319.8 682.0,320.2 682.1,320.5 682.3,320.9 682.4,321.3 682.5,321.7 682.6,322.2 682.7,322.6 682.8,323.1 682.9,323.5 683.0,324.0 683.1,323.8 683.2,323.7 683.3,323.5 683.4,323.3 683.5,323.2 683.6,323.0 683.7,322.9 683.8,322.7 683.8,322.6 683.9,322.5 684.0,322.3 684.1,322.2 684.2,322.1 684.3,322.1 684.4,322.0 684.5,322.0 684.6,322.8 684.7,324.8 684.8,327.7 684.9,331.2 685.0,335.0 685.1,339.3 685.2,343.9 685.2,348.9 685.3,354.2 685.4,360.0 685.5,366.3 685.6,373.2 685.7,380.8 685.8,389.4 685.9,399.5 686.0,410.0 686.2,380.6 686.5,361.9 686.7,347.6 686.9,335.5 687.1,324.9 687.4,315.3 687.6,306.4 687.8,298.2 688.0,290.5 688.2,283.3 688.5,276.6 688.7,270.3 688.9,264.7 689.1,260.0 689.4,256.7 689.6,255.4 689.8,256.7 690.0,260.0 690.2,264.7 690.5,270.3 690.7,276.6 690.9,283.3 691.1,290.5 691.3,298.2 691.5,306.4 691.7,315.3 691.9,324.9 692.1,335.5 692.4,347.6 692.6,361.9 692.8,380.6 693.0,410.0 693.3,403.0 693.6,395.3 693.9,388.4 694.2,382.3 694.6,376.6 694.9,371.4 695.2,366.7 695.5,362.2 695.8,358.1 696.1,354.2 696.4,350.7 696.8,347.5 697.1,344.7 697.4,342.3 697.7,340.6 698.0,340.0" fill="none" stroke="#1a1a1a" stroke-width="0.85" stroke-linejoin="round"/><path clip-path="url(#cr)" d="M821.75,297.83 826.03,285.20 830.32,287.60 834.60,350.30 838.88,274.20 843.16,287.00 847.45,321.30 851.73,265.70 856.01,295.50 860.30,290.60 864.58,258.40 868.86,324.60 873.15,262.00 877.43,258.40 881.71,399.00 885.99,255.50 890.28,267.90 894.56,305.60 898.84,258.10 903.13,289.50 907.41,275.20 911.69,259.30 915.98,334.60 920.26,261.80 924.54,252.30 928.82,338.00 933.11,262.00 937.39,266.00 941.67,288.00 945.96,259.00 950.24,287.30 954.52,266.00 958.81,241.10 963.09,334.00 967.37,236.20 971.65,241.10 975.94,288.50 980.22,242.30 984.50,259.30 988.79,239.00 993.07,222.00 997.35,340.00 1001.64,210.00 1005.92,240.00 1010.20,216.00 1014.48,207.00 1018.77,259.50 1023.05,194.00 1027.33,212.00 1031.62,256.90 1035.90,212.77 1040.18,201.38 1044.47,346.12 1048.75,190.14 1053.03,271.40 1057.31,167.00 1061.60,177.70 1065.88,159.00 1070.16,137.00 1074.45,279.30 1078.73,104.60 1083.01,112.00 1087.30,90.00 1091.58,38.00 1095.86,15.00 1100.14,19.00 1104.43,55.00 1108.71,112.00 1112.99,105.00 1117.28,288.00 1121.56,129.90 1125.84,150.00 1130.13,170.00 1134.41,150.60 1138.69,271.00 1142.97,165.70 1147.26,180.00 1151.54,195.00 1155.82,175.00 1160.11,257.60 1164.39,192.00 1168.67,199.20 1172.96,260.60 1177.24,194.40 1181.52,247.00 1185.80,225.60 1190.09,209.50 1194.37,335.00 1198.65,213.80 1202.94,234.80 1207.22,257.60 1211.50,221.70 1215.79,288.50 1220.07,242.40 1224.35,236.30 1228.63,334.00 1232.92,237.00 1237.20,253.00 1241.48,280.40 1245.77,240.10 1250.05,265.20 1254.33,245.40 1258.62,265.59 1262.90,338.40 1267.18,238.63 1271.46,290.04 1275.75,333.60 1280.03,248.00 1284.31,282.00 1288.60,268.00 1292.88,249.10 1297.16,290.00 1301.45,268.00 1305.73,254.60 1310.01,374.70 1314.29,258.30 1318.58,269.20 1322.86,324.40 1327.14,258.30 1331.43,288.70 1335.71,296.00 1339.99,263.10 1344.28,321.11 1348.56,292.00 1352.84,274.10 1357.12,350.40 1361.41,285.50 1365.69,284.40 1369.97,360.10 1374.26,292.00 1378.54,290.72 1382.82,365.00 1387.11,295.20 1391.39,292.30 1395.67,340.97" fill="none" stroke="#c8c8c8" stroke-width="0.8" stroke-linejoin="round"/><path clip-path="url(#cr)" d="M823.89,269.50 828.17,260.90 832.46,231.40 836.74,234.10 841.02,272.50 845.31,254.40 849.59,248.10 853.87,266.50 858.15,232.00 862.44,224.70 866.72,255.20 871.00,278.30 875.29,243.00 879.57,257.80 883.85,264.00 888.14,231.80 892.42,238.50 896.70,273.40 900.99,234.10 905.27,236.50 909.55,275.50 913.83,227.80 918.12,231.40 922.40,261.00 926.68,214.30 930.97,222.00 935.25,268.70 939.53,220.00 943.81,232.60 948.10,256.90 952.38,215.40 956.66,238.30 960.95,240.10 965.23,207.20 969.51,227.50 973.80,232.20 978.08,207.90 982.36,234.20 986.64,218.40 990.93,202.60 995.21,247.80 999.49,210.30 1003.78,199.70 1008.06,255.30 1012.34,193.70 1016.63,202.20 1020.91,229.50 1025.19,176.60 1029.47,207.40 1033.76,191.20 1038.04,166.20 1042.32,227.50 1046.61,162.60 1050.89,170.00 1055.17,174.30 1059.46,128.80 1063.74,148.30 1068.02,139.20 1072.31,124.60 1076.59,213.90 1080.87,118.10 1085.15,124.60 1089.44,66.00 1093.72,23.20 1098.00,14.20 1102.29,32.00 1106.57,100.70 1110.85,121.40 1115.13,116.00 1119.42,263.50 1123.70,131.90 1127.98,163.90 1132.27,178.80 1136.55,153.00 1140.83,247.10 1145.12,176.00 1149.40,186.10 1153.68,244.70 1157.96,181.60 1162.25,222.10 1166.53,223.80 1170.81,200.20 1175.10,240.30 1179.38,214.00 1183.66,232.50 1187.95,274.90 1192.23,216.50 1196.51,249.60 1200.80,272.60 1205.08,225.20 1209.36,258.40 1213.64,276.40 1217.93,238.20 1222.21,287.00 1226.49,263.00 1230.78,239.90 1235.06,309.80 1239.34,258.60 1243.62,249.20 1247.91,316.00 1252.19,235.80 1256.47,238.20 1260.76,308.60 1265.04,245.30 1269.32,257.00 1273.61,332.40 1277.89,248.40 1282.17,263.00 1286.45,385.90 1290.74,272.50 1295.02,280.60 1299.30,332.40 1303.59,316.30 1307.87,329.00 1312.15,342.30 1316.44,297.80 1320.72,288.70 1325.00,314.70 1329.29,285.50 1333.57,257.90 1337.85,272.50 1342.13,395.80 1346.42,295.80 1350.70,309.80 1354.98,336.80 1359.27,286.40 1363.55,301.70 1367.83,326.00 1372.12,281.60 1376.40,279.60 1380.68,298.40 1384.96,315.30 1389.25,307.50 1393.53,297.80 1397.81,303.00" fill="none" stroke="#1a1a1a" stroke-width="0.85" stroke-linejoin="round"/><rect x="126.0" y="13.5" width="571.20" height="385.5" fill="none" stroke="#000" stroke-width="1.5"/><rect x="825.5" y="13.5" width="571.10" height="385.5" fill="none" stroke="#000" stroke-width="1.5"/><rect x="446.7" y="22.1" width="238.80" height="92.8" fill="#fff" stroke="#000" stroke-width="1.4"/><line x1="456" y1="48.5" x2="508" y2="48.5" stroke="#c8c8c8" stroke-width="0.9"/><rect x="456" y="88.47" width="52.8" height="1.06" fill="#1a1a1a"/><text x="515" y="57.9" font-size="36" text-anchor="start" textLength="156" lengthAdjust="spacingAndGlyphs" >theoretical</text><text x="515" y="98" font-size="36" text-anchor="start" textLength="145" lengthAdjust="spacingAndGlyphs" >calibrated</text><rect x="1155.2" y="22.1" width="229.60" height="92.8" fill="#fff" stroke="#000" stroke-width="1.4"/><line x1="1165" y1="48.5" x2="1217" y2="48.5" stroke="#c8c8c8" stroke-width="0.9"/><rect x="1165" y="88.47" width="52.8" height="1.06" fill="#1a1a1a"/><text x="1224" y="57.9" font-size="36" text-anchor="start" textLength="140.5" lengthAdjust="spacingAndGlyphs" >thoretical</text><text x="1224" y="98" font-size="36" text-anchor="start" textLength="144.5" lengthAdjust="spacingAndGlyphs" >calibrated</text><text x="115.1" y="25.3" font-size="36" text-anchor="end" >0</text><text x="115.3" y="152.3" font-size="36" text-anchor="end" textLength="34" lengthAdjust="spacingAndGlyphs" >20</text><rect x="56.9" y="142.60" width="20.70" height="1.4" fill="#000"/><text x="115.3" y="280.90000000000003" font-size="36" text-anchor="end" textLength="34" lengthAdjust="spacingAndGlyphs" >40</text><rect x="56.9" y="271.20" width="20.70" height="1.4" fill="#000"/><text x="115.3" y="409.8" font-size="36" text-anchor="end" textLength="34" lengthAdjust="spacingAndGlyphs" >60</text><rect x="56.9" y="400.10" width="20.70" height="1.4" fill="#000"/><text x="0" y="0" font-size="39.5" text-anchor="middle" textLength="57.5" lengthAdjust="spacingAndGlyphs" transform="translate(30.7,206.6) rotate(-90)">[dB]</text><text x="814.6" y="25.3" font-size="36" text-anchor="end" >0</text><text x="814.8" y="152.3" font-size="36" text-anchor="end" textLength="34" lengthAdjust="spacingAndGlyphs" >20</text><rect x="756.4" y="142.60" width="20.70" height="1.4" fill="#000"/><text x="814.8" y="280.90000000000003" font-size="36" text-anchor="end" textLength="34" lengthAdjust="spacingAndGlyphs" >40</text><rect x="756.4" y="271.20" width="20.70" height="1.4" fill="#000"/><text x="814.8" y="409.8" font-size="36" text-anchor="end" textLength="34" lengthAdjust="spacingAndGlyphs" >60</text><rect x="756.4" y="400.10" width="20.70" height="1.4" fill="#000"/><text x="0" y="0" font-size="39.5" text-anchor="middle" textLength="57.5" lengthAdjust="spacingAndGlyphs" transform="translate(730.2,206.6) rotate(-90)">[dB]</text><rect x="130.4" y="423.60" width="20.40" height="1.4" fill="#000"/><text x="188.6" y="433.8" font-size="36" text-anchor="end" textLength="34" lengthAdjust="spacingAndGlyphs" >40</text><rect x="257.40000000000003" y="423.60" width="20.40" height="1.4" fill="#000"/><text x="314.59999999999997" y="433.8" font-size="36" text-anchor="end" textLength="34" lengthAdjust="spacingAndGlyphs" >20</text><text x="412.15000000000003" y="433.8" font-size="36" text-anchor="middle" >0</text><text x="539.2" y="433.8" font-size="36" text-anchor="middle" textLength="34" lengthAdjust="spacingAndGlyphs" >20</text><text x="666.0999999999999" y="433.8" font-size="36" text-anchor="middle" textLength="34" lengthAdjust="spacingAndGlyphs" >40</text><text x="882.75" y="433.8" font-size="36" text-anchor="middle" >196</text><text x="996.8" y="433.8" font-size="36" text-anchor="middle" >198</text><text x="1110.55" y="433.8" font-size="36" text-anchor="middle" >200</text><text x="1225.25" y="433.8" font-size="36" text-anchor="middle" >202</text><text x="1339.75" y="433.8" font-size="36" text-anchor="middle" >204</text><text x="348" y="482.6" font-size="36" text-anchor="start" textLength="127.5" lengthAdjust="spacingAndGlyphs" >Angle [°]</text><text x="1036.5" y="482.9" font-size="36" text-anchor="start" textLength="149" lengthAdjust="spacingAndGlyphs" >Range [m]</text></svg></body></html>
